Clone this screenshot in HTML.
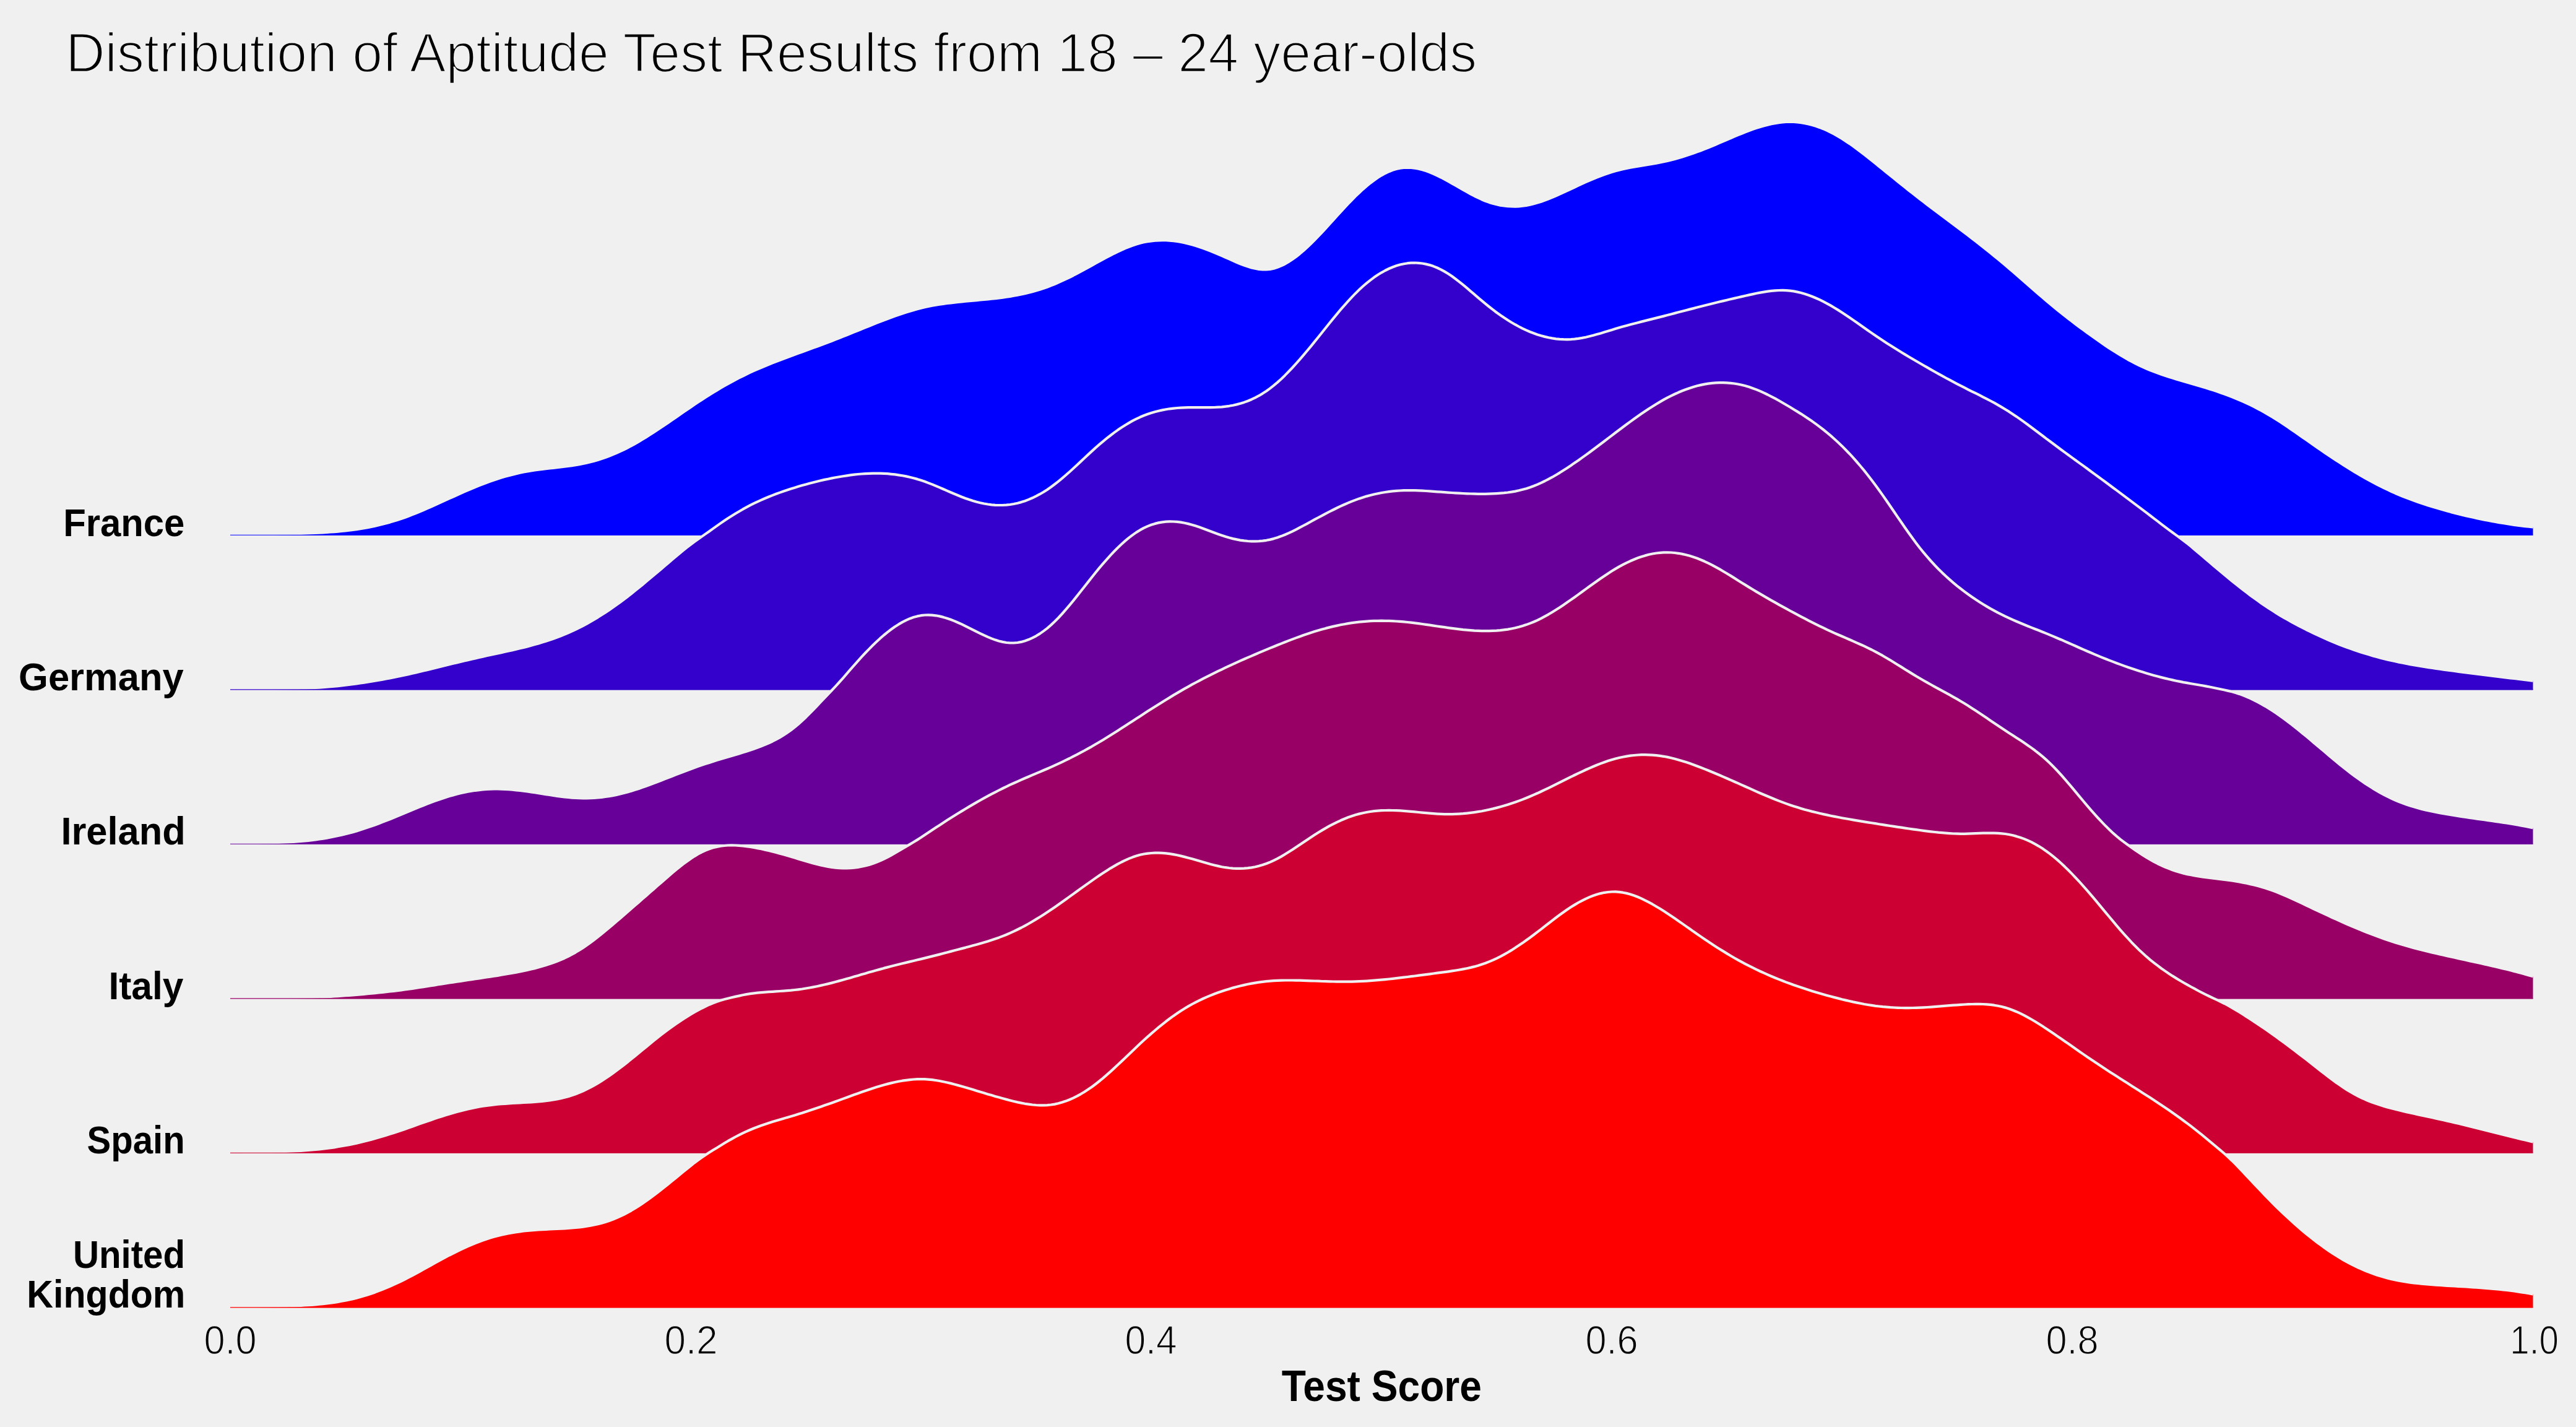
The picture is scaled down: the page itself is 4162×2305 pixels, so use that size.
<!DOCTYPE html>
<html><head><meta charset="utf-8"><title>Ridgeline</title>
<style>
html,body{margin:0;padding:0;background:#f0f0f0;}
body{width:4162px;height:2305px;overflow:hidden;font-family:"Liberation Sans",sans-serif;}
svg{display:block;position:absolute;left:0;top:0;}
text{font-family:"Liberation Sans",sans-serif;fill:#000;}
</style></head><body>
<svg xmlns="http://www.w3.org/2000/svg" width="4162" height="2305" viewBox="0 0 4162 2305">
<rect width="4162" height="2305" fill="#f0f0f0"/>
<path d="M372.0 864.4 L378.0 864.3 L384.0 864.3 L390.0 864.2 L396.0 864.2 L402.0 864.0 L408.0 863.9 L414.0 863.8 L420.0 863.6 L426.0 863.4 L432.0 863.2 L438.0 863.0 L444.0 862.8 L450.0 862.6 L456.0 862.4 L462.0 862.3 L468.0 862.1 L474.0 862.0 L480.0 861.9 L486.0 861.8 L492.0 861.6 L498.0 861.4 L504.0 861.2 L510.0 860.9 L516.0 860.6 L522.0 860.3 L528.0 859.9 L534.0 859.5 L540.0 859.1 L546.0 858.6 L552.0 858.0 L558.0 857.4 L564.0 856.7 L570.0 855.9 L576.0 855.1 L582.0 854.1 L588.0 853.1 L594.0 852.1 L600.0 850.9 L606.0 849.6 L612.0 848.2 L618.0 846.8 L624.0 845.2 L630.0 843.6 L636.0 841.8 L642.0 839.9 L648.0 838.0 L654.0 835.9 L660.0 833.7 L666.0 831.4 L672.0 829.0 L678.0 826.5 L684.0 824.0 L690.0 821.4 L696.0 818.8 L702.0 816.1 L708.0 813.4 L714.0 810.7 L720.0 807.9 L726.0 805.2 L732.0 802.5 L738.0 799.8 L744.0 797.1 L750.0 794.4 L756.0 791.8 L762.0 789.2 L768.0 786.7 L774.0 784.3 L780.0 782.0 L786.0 779.7 L792.0 777.5 L798.0 775.5 L804.0 773.5 L810.0 771.6 L816.0 769.8 L822.0 768.2 L828.0 766.6 L834.0 765.2 L840.0 763.8 L846.0 762.5 L852.0 761.4 L858.0 760.4 L864.0 759.4 L870.0 758.6 L876.0 757.8 L882.0 757.1 L888.0 756.4 L894.0 755.8 L900.0 755.1 L906.0 754.4 L912.0 753.7 L918.0 753.0 L924.0 752.1 L930.0 751.2 L936.0 750.1 L942.0 748.9 L948.0 747.6 L954.0 746.2 L960.0 744.6 L966.0 742.9 L972.0 741.0 L978.0 739.0 L984.0 736.8 L990.0 734.4 L996.0 731.9 L1002.0 729.2 L1008.0 726.4 L1014.0 723.3 L1020.0 720.1 L1026.0 716.8 L1032.0 713.4 L1038.0 709.8 L1044.0 706.1 L1050.0 702.3 L1056.0 698.5 L1062.0 694.6 L1068.0 690.6 L1074.0 686.5 L1080.0 682.4 L1086.0 678.3 L1092.0 674.2 L1098.0 670.1 L1104.0 665.9 L1110.0 661.8 L1116.0 657.7 L1122.0 653.6 L1128.0 649.6 L1134.0 645.7 L1140.0 641.8 L1146.0 638.0 L1152.0 634.2 L1158.0 630.6 L1164.0 627.0 L1170.0 623.5 L1176.0 620.1 L1182.0 616.8 L1188.0 613.6 L1194.0 610.5 L1200.0 607.5 L1206.0 604.5 L1212.0 601.7 L1218.0 598.9 L1224.0 596.3 L1230.0 593.7 L1236.0 591.2 L1242.0 588.7 L1248.0 586.3 L1254.0 584.0 L1260.0 581.7 L1266.0 579.5 L1272.0 577.2 L1278.0 575.0 L1284.0 572.8 L1290.0 570.6 L1296.0 568.5 L1302.0 566.3 L1308.0 564.1 L1314.0 561.9 L1320.0 559.7 L1326.0 557.5 L1332.0 555.2 L1338.0 553.0 L1344.0 550.7 L1350.0 548.4 L1356.0 546.0 L1362.0 543.6 L1368.0 541.3 L1374.0 538.8 L1380.0 536.4 L1386.0 534.0 L1392.0 531.6 L1398.0 529.1 L1404.0 526.7 L1410.0 524.3 L1416.0 521.9 L1422.0 519.6 L1428.0 517.3 L1434.0 515.0 L1440.0 512.8 L1446.0 510.6 L1452.0 508.5 L1458.0 506.5 L1464.0 504.6 L1470.0 502.7 L1476.0 500.9 L1482.0 499.3 L1488.0 497.7 L1494.0 496.3 L1500.0 495.0 L1506.0 493.8 L1512.0 492.8 L1518.0 491.8 L1524.0 490.9 L1530.0 490.0 L1536.0 489.3 L1542.0 488.6 L1548.0 487.9 L1554.0 487.3 L1560.0 486.7 L1566.0 486.1 L1572.0 485.6 L1578.0 485.1 L1584.0 484.5 L1590.0 483.9 L1596.0 483.3 L1602.0 482.7 L1608.0 482.1 L1614.0 481.3 L1620.0 480.6 L1626.0 479.7 L1632.0 478.8 L1638.0 477.8 L1644.0 476.7 L1650.0 475.5 L1656.0 474.2 L1662.0 472.7 L1668.0 471.2 L1674.0 469.5 L1680.0 467.7 L1686.0 465.8 L1692.0 463.7 L1698.0 461.4 L1704.0 459.0 L1710.0 456.4 L1716.0 453.7 L1722.0 450.9 L1728.0 448.0 L1734.0 445.0 L1740.0 441.8 L1746.0 438.7 L1752.0 435.4 L1758.0 432.1 L1764.0 428.8 L1770.0 425.5 L1776.0 422.2 L1782.0 418.9 L1788.0 415.7 L1794.0 412.6 L1800.0 409.5 L1806.0 406.6 L1812.0 403.8 L1818.0 401.1 L1824.0 398.7 L1830.0 396.5 L1836.0 394.5 L1842.0 392.8 L1848.0 391.3 L1854.0 390.2 L1860.0 389.3 L1866.0 388.6 L1872.0 388.3 L1878.0 388.1 L1884.0 388.2 L1890.0 388.6 L1896.0 389.2 L1902.0 390.0 L1908.0 391.0 L1914.0 392.2 L1920.0 393.6 L1926.0 395.2 L1932.0 397.0 L1938.0 399.0 L1944.0 401.1 L1950.0 403.3 L1956.0 405.6 L1962.0 408.0 L1968.0 410.5 L1974.0 413.1 L1980.0 415.7 L1986.0 418.4 L1992.0 421.1 L1998.0 423.7 L2004.0 426.2 L2010.0 428.5 L2016.0 430.6 L2022.0 432.4 L2028.0 433.8 L2034.0 434.9 L2040.0 435.4 L2046.0 435.5 L2052.0 434.9 L2058.0 433.7 L2064.0 431.8 L2070.0 429.4 L2076.0 426.5 L2082.0 423.0 L2088.0 419.1 L2094.0 414.8 L2100.0 410.0 L2106.0 404.9 L2112.0 399.5 L2118.0 393.8 L2124.0 387.8 L2130.0 381.6 L2136.0 375.3 L2142.0 368.8 L2148.0 362.2 L2154.0 355.6 L2160.0 348.9 L2166.0 342.3 L2172.0 335.8 L2178.0 329.4 L2184.0 323.2 L2190.0 317.1 L2196.0 311.4 L2202.0 305.8 L2208.0 300.6 L2214.0 295.7 L2220.0 291.2 L2226.0 287.0 L2232.0 283.3 L2238.0 280.0 L2244.0 277.2 L2250.0 274.8 L2256.0 273.0 L2262.0 271.6 L2268.0 270.9 L2274.0 270.6 L2280.0 270.9 L2286.0 271.6 L2292.0 272.7 L2298.0 274.3 L2304.0 276.1 L2310.0 278.3 L2316.0 280.8 L2322.0 283.6 L2328.0 286.5 L2334.0 289.6 L2340.0 292.9 L2346.0 296.3 L2352.0 299.7 L2358.0 303.2 L2364.0 306.6 L2370.0 310.0 L2376.0 313.3 L2382.0 316.5 L2388.0 319.4 L2394.0 322.2 L2400.0 324.7 L2406.0 326.9 L2412.0 328.8 L2418.0 330.3 L2424.0 331.6 L2430.0 332.5 L2436.0 333.2 L2442.0 333.5 L2448.0 333.6 L2454.0 333.3 L2460.0 332.7 L2466.0 331.9 L2472.0 330.7 L2478.0 329.3 L2484.0 327.6 L2490.0 325.7 L2496.0 323.6 L2502.0 321.3 L2508.0 318.9 L2514.0 316.3 L2520.0 313.6 L2526.0 310.9 L2532.0 308.1 L2538.0 305.3 L2544.0 302.5 L2550.0 299.7 L2556.0 296.9 L2562.0 294.2 L2568.0 291.6 L2574.0 289.1 L2580.0 286.6 L2586.0 284.3 L2592.0 282.0 L2598.0 279.9 L2604.0 278.0 L2610.0 276.2 L2616.0 274.6 L2622.0 273.2 L2628.0 271.9 L2634.0 270.7 L2640.0 269.6 L2646.0 268.6 L2652.0 267.6 L2658.0 266.7 L2664.0 265.7 L2670.0 264.7 L2676.0 263.6 L2682.0 262.5 L2688.0 261.2 L2694.0 259.9 L2700.0 258.4 L2706.0 256.9 L2712.0 255.2 L2718.0 253.5 L2724.0 251.6 L2730.0 249.6 L2736.0 247.6 L2742.0 245.4 L2748.0 243.2 L2754.0 240.9 L2760.0 238.5 L2766.0 236.0 L2772.0 233.5 L2778.0 230.9 L2784.0 228.3 L2790.0 225.7 L2796.0 223.2 L2802.0 220.6 L2808.0 218.1 L2814.0 215.7 L2820.0 213.3 L2826.0 211.0 L2832.0 208.8 L2838.0 206.8 L2844.0 204.9 L2850.0 203.2 L2856.0 201.6 L2862.0 200.2 L2868.0 199.1 L2874.0 198.1 L2880.0 197.4 L2886.0 197.0 L2892.0 196.8 L2898.0 197.0 L2904.0 197.4 L2910.0 198.1 L2916.0 199.1 L2922.0 200.4 L2928.0 201.9 L2934.0 203.8 L2940.0 205.9 L2946.0 208.2 L2952.0 210.9 L2958.0 213.8 L2964.0 216.9 L2970.0 220.4 L2976.0 224.0 L2982.0 227.9 L2988.0 231.9 L2994.0 236.1 L3000.0 240.5 L3006.0 245.0 L3012.0 249.6 L3018.0 254.3 L3024.0 259.1 L3030.0 263.9 L3036.0 268.8 L3042.0 273.6 L3048.0 278.5 L3054.0 283.3 L3060.0 288.2 L3066.0 293.0 L3072.0 297.9 L3078.0 302.7 L3084.0 307.5 L3090.0 312.2 L3096.0 316.9 L3102.0 321.6 L3108.0 326.2 L3114.0 330.8 L3120.0 335.4 L3126.0 339.9 L3132.0 344.4 L3138.0 348.9 L3144.0 353.3 L3150.0 357.8 L3156.0 362.3 L3162.0 366.8 L3168.0 371.3 L3174.0 375.8 L3180.0 380.4 L3186.0 385.0 L3192.0 389.6 L3198.0 394.3 L3204.0 399.0 L3210.0 403.8 L3216.0 408.6 L3222.0 413.5 L3228.0 418.4 L3234.0 423.4 L3240.0 428.5 L3246.0 433.6 L3252.0 438.7 L3258.0 443.9 L3264.0 449.1 L3270.0 454.4 L3276.0 459.6 L3282.0 464.9 L3288.0 470.1 L3294.0 475.3 L3300.0 480.5 L3306.0 485.6 L3312.0 490.7 L3318.0 495.7 L3324.0 500.6 L3330.0 505.4 L3336.0 510.1 L3342.0 514.8 L3348.0 519.4 L3354.0 524.0 L3360.0 528.5 L3366.0 532.9 L3372.0 537.3 L3378.0 541.6 L3384.0 545.9 L3390.0 550.1 L3396.0 554.3 L3402.0 558.4 L3408.0 562.4 L3414.0 566.3 L3420.0 570.1 L3426.0 573.8 L3432.0 577.3 L3438.0 580.8 L3444.0 584.0 L3450.0 587.2 L3456.0 590.1 L3462.0 592.9 L3468.0 595.5 L3474.0 598.0 L3480.0 600.3 L3486.0 602.6 L3492.0 604.7 L3498.0 606.7 L3504.0 608.7 L3510.0 610.6 L3516.0 612.4 L3522.0 614.2 L3528.0 616.0 L3534.0 617.7 L3540.0 619.5 L3546.0 621.2 L3552.0 623.0 L3558.0 624.7 L3564.0 626.6 L3570.0 628.4 L3576.0 630.3 L3582.0 632.3 L3588.0 634.4 L3594.0 636.5 L3600.0 638.7 L3606.0 641.0 L3612.0 643.5 L3618.0 646.0 L3624.0 648.6 L3630.0 651.4 L3636.0 654.2 L3642.0 657.2 L3648.0 660.3 L3654.0 663.5 L3660.0 666.9 L3666.0 670.4 L3672.0 674.0 L3678.0 677.8 L3684.0 681.6 L3690.0 685.6 L3696.0 689.6 L3702.0 693.7 L3708.0 697.8 L3714.0 702.0 L3720.0 706.2 L3726.0 710.4 L3732.0 714.6 L3738.0 718.8 L3744.0 722.9 L3750.0 727.1 L3756.0 731.2 L3762.0 735.2 L3768.0 739.2 L3774.0 743.2 L3780.0 747.1 L3786.0 751.0 L3792.0 754.7 L3798.0 758.5 L3804.0 762.1 L3810.0 765.7 L3816.0 769.2 L3822.0 772.6 L3828.0 775.9 L3834.0 779.2 L3840.0 782.3 L3846.0 785.4 L3852.0 788.3 L3858.0 791.2 L3864.0 794.0 L3870.0 796.7 L3876.0 799.2 L3882.0 801.7 L3888.0 804.1 L3894.0 806.4 L3900.0 808.6 L3906.0 810.7 L3912.0 812.8 L3918.0 814.7 L3924.0 816.7 L3930.0 818.5 L3936.0 820.3 L3942.0 822.1 L3948.0 823.8 L3954.0 825.4 L3960.0 827.1 L3966.0 828.6 L3972.0 830.2 L3978.0 831.7 L3984.0 833.1 L3990.0 834.5 L3996.0 835.8 L4002.0 837.2 L4008.0 838.4 L4014.0 839.6 L4020.0 840.8 L4026.0 841.9 L4032.0 843.0 L4038.0 844.1 L4044.0 845.0 L4050.0 846.0 L4056.0 846.9 L4062.0 847.8 L4068.0 848.6 L4074.0 849.3 L4080.0 850.1 L4086.0 850.7 L4092.0 851.4 L4092.5 851.4 L4092.5 864.5 L372.0 864.5 Z" fill="#0000ff"/>
<path d="M372.0 864.4 L378.0 864.3 L384.0 864.3 L390.0 864.2 L396.0 864.2 L402.0 864.0 L408.0 863.9 L414.0 863.8 L420.0 863.6 L426.0 863.4 L432.0 863.2 L438.0 863.0 L444.0 862.8 L450.0 862.6 L456.0 862.4 L462.0 862.3 L468.0 862.1 L474.0 862.0 L480.0 861.9 L486.0 861.8 L492.0 861.6 L498.0 861.4 L504.0 861.2 L510.0 860.9 L516.0 860.6 L522.0 860.3 L528.0 859.9 L534.0 859.5 L540.0 859.1 L546.0 858.6 L552.0 858.0 L558.0 857.4 L564.0 856.7 L570.0 855.9 L576.0 855.1 L582.0 854.1 L588.0 853.1 L594.0 852.1 L600.0 850.9 L606.0 849.6 L612.0 848.2 L618.0 846.8 L624.0 845.2 L630.0 843.6 L636.0 841.8 L642.0 839.9 L648.0 838.0 L654.0 835.9 L660.0 833.7 L666.0 831.4 L672.0 829.0 L678.0 826.5 L684.0 824.0 L690.0 821.4 L696.0 818.8 L702.0 816.1 L708.0 813.4 L714.0 810.7 L720.0 807.9 L726.0 805.2 L732.0 802.5 L738.0 799.8 L744.0 797.1 L750.0 794.4 L756.0 791.8 L762.0 789.2 L768.0 786.7 L774.0 784.3 L780.0 782.0 L786.0 779.7 L792.0 777.5 L798.0 775.5 L804.0 773.5 L810.0 771.6 L816.0 769.8 L822.0 768.2 L828.0 766.6 L834.0 765.2 L840.0 763.8 L846.0 762.5 L852.0 761.4 L858.0 760.4 L864.0 759.4 L870.0 758.6 L876.0 757.8 L882.0 757.1 L888.0 756.4 L894.0 755.8 L900.0 755.1 L906.0 754.4 L912.0 753.7 L918.0 753.0 L924.0 752.1 L930.0 751.2 L936.0 750.1 L942.0 748.9 L948.0 747.6 L954.0 746.2 L960.0 744.6 L966.0 742.9 L972.0 741.0 L978.0 739.0 L984.0 736.8 L990.0 734.4 L996.0 731.9 L1002.0 729.2 L1008.0 726.4 L1014.0 723.3 L1020.0 720.1 L1026.0 716.8 L1032.0 713.4 L1038.0 709.8 L1044.0 706.1 L1050.0 702.3 L1056.0 698.5 L1062.0 694.6 L1068.0 690.6 L1074.0 686.5 L1080.0 682.4 L1086.0 678.3 L1092.0 674.2 L1098.0 670.1 L1104.0 665.9 L1110.0 661.8 L1116.0 657.7 L1122.0 653.6 L1128.0 649.6 L1134.0 645.7 L1140.0 641.8 L1146.0 638.0 L1152.0 634.2 L1158.0 630.6 L1164.0 627.0 L1170.0 623.5 L1176.0 620.1 L1182.0 616.8 L1188.0 613.6 L1194.0 610.5 L1200.0 607.5 L1206.0 604.5 L1212.0 601.7 L1218.0 598.9 L1224.0 596.3 L1230.0 593.7 L1236.0 591.2 L1242.0 588.7 L1248.0 586.3 L1254.0 584.0 L1260.0 581.7 L1266.0 579.5 L1272.0 577.2 L1278.0 575.0 L1284.0 572.8 L1290.0 570.6 L1296.0 568.5 L1302.0 566.3 L1308.0 564.1 L1314.0 561.9 L1320.0 559.7 L1326.0 557.5 L1332.0 555.2 L1338.0 553.0 L1344.0 550.7 L1350.0 548.4 L1356.0 546.0 L1362.0 543.6 L1368.0 541.3 L1374.0 538.8 L1380.0 536.4 L1386.0 534.0 L1392.0 531.6 L1398.0 529.1 L1404.0 526.7 L1410.0 524.3 L1416.0 521.9 L1422.0 519.6 L1428.0 517.3 L1434.0 515.0 L1440.0 512.8 L1446.0 510.6 L1452.0 508.5 L1458.0 506.5 L1464.0 504.6 L1470.0 502.7 L1476.0 500.9 L1482.0 499.3 L1488.0 497.7 L1494.0 496.3 L1500.0 495.0 L1506.0 493.8 L1512.0 492.8 L1518.0 491.8 L1524.0 490.9 L1530.0 490.0 L1536.0 489.3 L1542.0 488.6 L1548.0 487.9 L1554.0 487.3 L1560.0 486.7 L1566.0 486.1 L1572.0 485.6 L1578.0 485.1 L1584.0 484.5 L1590.0 483.9 L1596.0 483.3 L1602.0 482.7 L1608.0 482.1 L1614.0 481.3 L1620.0 480.6 L1626.0 479.7 L1632.0 478.8 L1638.0 477.8 L1644.0 476.7 L1650.0 475.5 L1656.0 474.2 L1662.0 472.7 L1668.0 471.2 L1674.0 469.5 L1680.0 467.7 L1686.0 465.8 L1692.0 463.7 L1698.0 461.4 L1704.0 459.0 L1710.0 456.4 L1716.0 453.7 L1722.0 450.9 L1728.0 448.0 L1734.0 445.0 L1740.0 441.8 L1746.0 438.7 L1752.0 435.4 L1758.0 432.1 L1764.0 428.8 L1770.0 425.5 L1776.0 422.2 L1782.0 418.9 L1788.0 415.7 L1794.0 412.6 L1800.0 409.5 L1806.0 406.6 L1812.0 403.8 L1818.0 401.1 L1824.0 398.7 L1830.0 396.5 L1836.0 394.5 L1842.0 392.8 L1848.0 391.3 L1854.0 390.2 L1860.0 389.3 L1866.0 388.6 L1872.0 388.3 L1878.0 388.1 L1884.0 388.2 L1890.0 388.6 L1896.0 389.2 L1902.0 390.0 L1908.0 391.0 L1914.0 392.2 L1920.0 393.6 L1926.0 395.2 L1932.0 397.0 L1938.0 399.0 L1944.0 401.1 L1950.0 403.3 L1956.0 405.6 L1962.0 408.0 L1968.0 410.5 L1974.0 413.1 L1980.0 415.7 L1986.0 418.4 L1992.0 421.1 L1998.0 423.7 L2004.0 426.2 L2010.0 428.5 L2016.0 430.6 L2022.0 432.4 L2028.0 433.8 L2034.0 434.9 L2040.0 435.4 L2046.0 435.5 L2052.0 434.9 L2058.0 433.7 L2064.0 431.8 L2070.0 429.4 L2076.0 426.5 L2082.0 423.0 L2088.0 419.1 L2094.0 414.8 L2100.0 410.0 L2106.0 404.9 L2112.0 399.5 L2118.0 393.8 L2124.0 387.8 L2130.0 381.6 L2136.0 375.3 L2142.0 368.8 L2148.0 362.2 L2154.0 355.6 L2160.0 348.9 L2166.0 342.3 L2172.0 335.8 L2178.0 329.4 L2184.0 323.2 L2190.0 317.1 L2196.0 311.4 L2202.0 305.8 L2208.0 300.6 L2214.0 295.7 L2220.0 291.2 L2226.0 287.0 L2232.0 283.3 L2238.0 280.0 L2244.0 277.2 L2250.0 274.8 L2256.0 273.0 L2262.0 271.6 L2268.0 270.9 L2274.0 270.6 L2280.0 270.9 L2286.0 271.6 L2292.0 272.7 L2298.0 274.3 L2304.0 276.1 L2310.0 278.3 L2316.0 280.8 L2322.0 283.6 L2328.0 286.5 L2334.0 289.6 L2340.0 292.9 L2346.0 296.3 L2352.0 299.7 L2358.0 303.2 L2364.0 306.6 L2370.0 310.0 L2376.0 313.3 L2382.0 316.5 L2388.0 319.4 L2394.0 322.2 L2400.0 324.7 L2406.0 326.9 L2412.0 328.8 L2418.0 330.3 L2424.0 331.6 L2430.0 332.5 L2436.0 333.2 L2442.0 333.5 L2448.0 333.6 L2454.0 333.3 L2460.0 332.7 L2466.0 331.9 L2472.0 330.7 L2478.0 329.3 L2484.0 327.6 L2490.0 325.7 L2496.0 323.6 L2502.0 321.3 L2508.0 318.9 L2514.0 316.3 L2520.0 313.6 L2526.0 310.9 L2532.0 308.1 L2538.0 305.3 L2544.0 302.5 L2550.0 299.7 L2556.0 296.9 L2562.0 294.2 L2568.0 291.6 L2574.0 289.1 L2580.0 286.6 L2586.0 284.3 L2592.0 282.0 L2598.0 279.9 L2604.0 278.0 L2610.0 276.2 L2616.0 274.6 L2622.0 273.2 L2628.0 271.9 L2634.0 270.7 L2640.0 269.6 L2646.0 268.6 L2652.0 267.6 L2658.0 266.7 L2664.0 265.7 L2670.0 264.7 L2676.0 263.6 L2682.0 262.5 L2688.0 261.2 L2694.0 259.9 L2700.0 258.4 L2706.0 256.9 L2712.0 255.2 L2718.0 253.5 L2724.0 251.6 L2730.0 249.6 L2736.0 247.6 L2742.0 245.4 L2748.0 243.2 L2754.0 240.9 L2760.0 238.5 L2766.0 236.0 L2772.0 233.5 L2778.0 230.9 L2784.0 228.3 L2790.0 225.7 L2796.0 223.2 L2802.0 220.6 L2808.0 218.1 L2814.0 215.7 L2820.0 213.3 L2826.0 211.0 L2832.0 208.8 L2838.0 206.8 L2844.0 204.9 L2850.0 203.2 L2856.0 201.6 L2862.0 200.2 L2868.0 199.1 L2874.0 198.1 L2880.0 197.4 L2886.0 197.0 L2892.0 196.8 L2898.0 197.0 L2904.0 197.4 L2910.0 198.1 L2916.0 199.1 L2922.0 200.4 L2928.0 201.9 L2934.0 203.8 L2940.0 205.9 L2946.0 208.2 L2952.0 210.9 L2958.0 213.8 L2964.0 216.9 L2970.0 220.4 L2976.0 224.0 L2982.0 227.9 L2988.0 231.9 L2994.0 236.1 L3000.0 240.5 L3006.0 245.0 L3012.0 249.6 L3018.0 254.3 L3024.0 259.1 L3030.0 263.9 L3036.0 268.8 L3042.0 273.6 L3048.0 278.5 L3054.0 283.3 L3060.0 288.2 L3066.0 293.0 L3072.0 297.9 L3078.0 302.7 L3084.0 307.5 L3090.0 312.2 L3096.0 316.9 L3102.0 321.6 L3108.0 326.2 L3114.0 330.8 L3120.0 335.4 L3126.0 339.9 L3132.0 344.4 L3138.0 348.9 L3144.0 353.3 L3150.0 357.8 L3156.0 362.3 L3162.0 366.8 L3168.0 371.3 L3174.0 375.8 L3180.0 380.4 L3186.0 385.0 L3192.0 389.6 L3198.0 394.3 L3204.0 399.0 L3210.0 403.8 L3216.0 408.6 L3222.0 413.5 L3228.0 418.4 L3234.0 423.4 L3240.0 428.5 L3246.0 433.6 L3252.0 438.7 L3258.0 443.9 L3264.0 449.1 L3270.0 454.4 L3276.0 459.6 L3282.0 464.9 L3288.0 470.1 L3294.0 475.3 L3300.0 480.5 L3306.0 485.6 L3312.0 490.7 L3318.0 495.7 L3324.0 500.6 L3330.0 505.4 L3336.0 510.1 L3342.0 514.8 L3348.0 519.4 L3354.0 524.0 L3360.0 528.5 L3366.0 532.9 L3372.0 537.3 L3378.0 541.6 L3384.0 545.9 L3390.0 550.1 L3396.0 554.3 L3402.0 558.4 L3408.0 562.4 L3414.0 566.3 L3420.0 570.1 L3426.0 573.8 L3432.0 577.3 L3438.0 580.8 L3444.0 584.0 L3450.0 587.2 L3456.0 590.1 L3462.0 592.9 L3468.0 595.5 L3474.0 598.0 L3480.0 600.3 L3486.0 602.6 L3492.0 604.7 L3498.0 606.7 L3504.0 608.7 L3510.0 610.6 L3516.0 612.4 L3522.0 614.2 L3528.0 616.0 L3534.0 617.7 L3540.0 619.5 L3546.0 621.2 L3552.0 623.0 L3558.0 624.7 L3564.0 626.6 L3570.0 628.4 L3576.0 630.3 L3582.0 632.3 L3588.0 634.4 L3594.0 636.5 L3600.0 638.7 L3606.0 641.0 L3612.0 643.5 L3618.0 646.0 L3624.0 648.6 L3630.0 651.4 L3636.0 654.2 L3642.0 657.2 L3648.0 660.3 L3654.0 663.5 L3660.0 666.9 L3666.0 670.4 L3672.0 674.0 L3678.0 677.8 L3684.0 681.6 L3690.0 685.6 L3696.0 689.6 L3702.0 693.7 L3708.0 697.8 L3714.0 702.0 L3720.0 706.2 L3726.0 710.4 L3732.0 714.6 L3738.0 718.8 L3744.0 722.9 L3750.0 727.1 L3756.0 731.2 L3762.0 735.2 L3768.0 739.2 L3774.0 743.2 L3780.0 747.1 L3786.0 751.0 L3792.0 754.7 L3798.0 758.5 L3804.0 762.1 L3810.0 765.7 L3816.0 769.2 L3822.0 772.6 L3828.0 775.9 L3834.0 779.2 L3840.0 782.3 L3846.0 785.4 L3852.0 788.3 L3858.0 791.2 L3864.0 794.0 L3870.0 796.7 L3876.0 799.2 L3882.0 801.7 L3888.0 804.1 L3894.0 806.4 L3900.0 808.6 L3906.0 810.7 L3912.0 812.8 L3918.0 814.7 L3924.0 816.7 L3930.0 818.5 L3936.0 820.3 L3942.0 822.1 L3948.0 823.8 L3954.0 825.4 L3960.0 827.1 L3966.0 828.6 L3972.0 830.2 L3978.0 831.7 L3984.0 833.1 L3990.0 834.5 L3996.0 835.8 L4002.0 837.2 L4008.0 838.4 L4014.0 839.6 L4020.0 840.8 L4026.0 841.9 L4032.0 843.0 L4038.0 844.1 L4044.0 845.0 L4050.0 846.0 L4056.0 846.9 L4062.0 847.8 L4068.0 848.6 L4074.0 849.3 L4080.0 850.1 L4086.0 850.7 L4092.0 851.4 L4092.5 851.4" fill="none" stroke="#f0f0f0" stroke-width="4.2" stroke-linejoin="round"/>
<path d="M372.0 864.2 H4092.5" stroke="#0000ff" stroke-width="1.1" fill="none"/>
<path d="M372.0 1114.2 L378.0 1114.1 L384.0 1114.1 L390.0 1114.1 L396.0 1114.0 L402.0 1114.0 L408.0 1113.9 L414.0 1113.8 L420.0 1113.6 L426.0 1113.4 L432.0 1113.2 L438.0 1113.0 L444.0 1112.8 L450.0 1112.6 L456.0 1112.5 L462.0 1112.3 L468.0 1112.1 L474.0 1112.0 L480.0 1111.8 L486.0 1111.7 L492.0 1111.6 L498.0 1111.4 L504.0 1111.2 L510.0 1110.9 L516.0 1110.6 L522.0 1110.2 L528.0 1109.7 L534.0 1109.2 L540.0 1108.7 L546.0 1108.1 L552.0 1107.4 L558.0 1106.7 L564.0 1105.9 L570.0 1105.2 L576.0 1104.3 L582.0 1103.5 L588.0 1102.6 L594.0 1101.7 L600.0 1100.7 L606.0 1099.7 L612.0 1098.7 L618.0 1097.6 L624.0 1096.5 L630.0 1095.4 L636.0 1094.2 L642.0 1093.0 L648.0 1091.8 L654.0 1090.5 L660.0 1089.1 L666.0 1087.8 L672.0 1086.4 L678.0 1085.0 L684.0 1083.5 L690.0 1082.1 L696.0 1080.6 L702.0 1079.1 L708.0 1077.7 L714.0 1076.2 L720.0 1074.7 L726.0 1073.2 L732.0 1071.8 L738.0 1070.4 L744.0 1068.9 L750.0 1067.5 L756.0 1066.1 L762.0 1064.7 L768.0 1063.4 L774.0 1062.0 L780.0 1060.7 L786.0 1059.3 L792.0 1058.0 L798.0 1056.7 L804.0 1055.4 L810.0 1054.1 L816.0 1052.8 L822.0 1051.5 L828.0 1050.1 L834.0 1048.7 L840.0 1047.3 L846.0 1045.9 L852.0 1044.4 L858.0 1042.8 L864.0 1041.1 L870.0 1039.4 L876.0 1037.6 L882.0 1035.7 L888.0 1033.8 L894.0 1031.7 L900.0 1029.5 L906.0 1027.2 L912.0 1024.8 L918.0 1022.3 L924.0 1019.6 L930.0 1016.8 L936.0 1013.9 L942.0 1010.8 L948.0 1007.6 L954.0 1004.2 L960.0 1000.7 L966.0 997.1 L972.0 993.3 L978.0 989.5 L984.0 985.5 L990.0 981.3 L996.0 977.1 L1002.0 972.7 L1008.0 968.2 L1014.0 963.7 L1020.0 959.0 L1026.0 954.2 L1032.0 949.4 L1038.0 944.5 L1044.0 939.5 L1050.0 934.5 L1056.0 929.5 L1062.0 924.4 L1068.0 919.3 L1074.0 914.2 L1080.0 909.1 L1086.0 904.0 L1092.0 899.0 L1098.0 893.9 L1104.0 888.9 L1110.0 884.1 L1116.0 879.5 L1122.0 875.1 L1128.0 870.8 L1134.0 866.6 L1140.0 862.4 L1146.0 858.2 L1152.0 853.9 L1158.0 849.6 L1164.0 845.4 L1170.0 841.3 L1176.0 837.3 L1182.0 833.5 L1188.0 829.8 L1194.0 826.2 L1200.0 822.7 L1206.0 819.4 L1212.0 816.2 L1218.0 813.2 L1224.0 810.3 L1230.0 807.6 L1236.0 805.0 L1242.0 802.5 L1248.0 800.1 L1254.0 797.8 L1260.0 795.6 L1266.0 793.5 L1272.0 791.5 L1278.0 789.5 L1284.0 787.7 L1290.0 785.8 L1296.0 784.1 L1302.0 782.4 L1308.0 780.8 L1314.0 779.2 L1320.0 777.7 L1326.0 776.3 L1332.0 774.9 L1338.0 773.7 L1344.0 772.4 L1350.0 771.3 L1356.0 770.2 L1362.0 769.2 L1368.0 768.3 L1374.0 767.4 L1380.0 766.7 L1386.0 766.0 L1392.0 765.5 L1398.0 765.1 L1404.0 764.8 L1410.0 764.6 L1416.0 764.5 L1422.0 764.6 L1428.0 764.9 L1434.0 765.2 L1440.0 765.8 L1446.0 766.4 L1452.0 767.3 L1458.0 768.3 L1464.0 769.4 L1470.0 770.8 L1476.0 772.3 L1482.0 773.9 L1488.0 775.8 L1494.0 777.8 L1500.0 780.1 L1506.0 782.4 L1512.0 784.9 L1518.0 787.4 L1524.0 790.0 L1530.0 792.7 L1536.0 795.3 L1542.0 797.8 L1548.0 800.3 L1554.0 802.7 L1560.0 805.0 L1566.0 807.1 L1572.0 809.0 L1578.0 810.7 L1584.0 812.2 L1590.0 813.5 L1596.0 814.5 L1602.0 815.3 L1608.0 815.8 L1614.0 816.0 L1620.0 816.0 L1626.0 815.7 L1632.0 815.0 L1638.0 814.0 L1644.0 812.7 L1650.0 811.1 L1656.0 809.2 L1662.0 806.9 L1668.0 804.3 L1674.0 801.4 L1680.0 798.2 L1686.0 794.7 L1692.0 790.9 L1698.0 786.8 L1704.0 782.3 L1710.0 777.6 L1716.0 772.7 L1722.0 767.5 L1728.0 762.2 L1734.0 756.7 L1740.0 751.2 L1746.0 745.6 L1752.0 740.0 L1758.0 734.4 L1764.0 728.9 L1770.0 723.4 L1776.0 718.2 L1782.0 713.1 L1788.0 708.2 L1794.0 703.5 L1800.0 698.9 L1806.0 694.6 L1812.0 690.5 L1818.0 686.7 L1824.0 683.1 L1830.0 679.7 L1836.0 676.6 L1842.0 673.8 L1848.0 671.3 L1854.0 669.0 L1860.0 667.0 L1866.0 665.2 L1872.0 663.7 L1878.0 662.4 L1884.0 661.3 L1890.0 660.3 L1896.0 659.6 L1902.0 659.0 L1908.0 658.6 L1914.0 658.4 L1920.0 658.2 L1926.0 658.2 L1932.0 658.2 L1938.0 658.2 L1944.0 658.2 L1950.0 658.2 L1956.0 658.2 L1962.0 658.0 L1968.0 657.7 L1974.0 657.3 L1980.0 656.6 L1986.0 655.8 L1992.0 654.7 L1998.0 653.4 L2004.0 651.8 L2010.0 649.9 L2016.0 647.7 L2022.0 645.2 L2028.0 642.3 L2034.0 639.2 L2040.0 635.6 L2046.0 631.7 L2052.0 627.4 L2058.0 622.7 L2064.0 617.6 L2070.0 612.2 L2076.0 606.4 L2082.0 600.3 L2088.0 594.0 L2094.0 587.4 L2100.0 580.6 L2106.0 573.7 L2112.0 566.5 L2118.0 559.3 L2124.0 551.9 L2130.0 544.5 L2136.0 537.0 L2142.0 529.5 L2148.0 522.0 L2154.0 514.6 L2160.0 507.4 L2166.0 500.2 L2172.0 493.3 L2178.0 486.6 L2184.0 480.1 L2190.0 473.9 L2196.0 468.1 L2202.0 462.5 L2208.0 457.4 L2214.0 452.6 L2220.0 448.1 L2226.0 444.0 L2232.0 440.3 L2238.0 437.0 L2244.0 434.0 L2250.0 431.5 L2256.0 429.3 L2262.0 427.5 L2268.0 426.2 L2274.0 425.2 L2280.0 424.7 L2286.0 424.5 L2292.0 424.8 L2298.0 425.5 L2304.0 426.6 L2310.0 428.1 L2316.0 430.1 L2322.0 432.5 L2328.0 435.3 L2334.0 438.6 L2340.0 442.3 L2346.0 446.3 L2352.0 450.7 L2358.0 455.3 L2364.0 460.2 L2370.0 465.2 L2376.0 470.3 L2382.0 475.4 L2388.0 480.6 L2394.0 485.7 L2400.0 490.7 L2406.0 495.5 L2412.0 500.2 L2418.0 504.7 L2424.0 509.0 L2430.0 513.1 L2436.0 517.0 L2442.0 520.7 L2448.0 524.2 L2454.0 527.5 L2460.0 530.6 L2466.0 533.4 L2472.0 536.0 L2478.0 538.3 L2484.0 540.5 L2490.0 542.3 L2496.0 543.9 L2502.0 545.3 L2508.0 546.4 L2514.0 547.3 L2520.0 547.9 L2526.0 548.2 L2532.0 548.3 L2538.0 548.1 L2544.0 547.6 L2550.0 546.9 L2556.0 545.9 L2562.0 544.7 L2568.0 543.3 L2574.0 541.8 L2580.0 540.1 L2586.0 538.4 L2592.0 536.6 L2598.0 534.8 L2604.0 532.9 L2610.0 531.1 L2616.0 529.3 L2622.0 527.6 L2628.0 525.9 L2634.0 524.3 L2640.0 522.7 L2646.0 521.2 L2652.0 519.6 L2658.0 518.1 L2664.0 516.6 L2670.0 515.1 L2676.0 513.6 L2682.0 512.1 L2688.0 510.6 L2694.0 509.0 L2700.0 507.5 L2706.0 505.9 L2712.0 504.3 L2718.0 502.8 L2724.0 501.2 L2730.0 499.6 L2736.0 498.1 L2742.0 496.5 L2748.0 495.0 L2754.0 493.5 L2760.0 492.0 L2766.0 490.5 L2772.0 489.0 L2778.0 487.5 L2784.0 486.1 L2790.0 484.7 L2796.0 483.2 L2802.0 481.9 L2808.0 480.5 L2814.0 479.1 L2820.0 477.7 L2826.0 476.4 L2832.0 475.1 L2838.0 473.8 L2844.0 472.6 L2850.0 471.6 L2856.0 470.7 L2862.0 469.9 L2868.0 469.4 L2874.0 469.0 L2880.0 468.9 L2886.0 469.1 L2892.0 469.6 L2898.0 470.4 L2904.0 471.6 L2910.0 473.0 L2916.0 474.7 L2922.0 476.7 L2928.0 479.0 L2934.0 481.5 L2940.0 484.2 L2946.0 487.2 L2952.0 490.3 L2958.0 493.7 L2964.0 497.2 L2970.0 500.9 L2976.0 504.7 L2982.0 508.7 L2988.0 512.7 L2994.0 516.9 L3000.0 521.0 L3006.0 525.2 L3012.0 529.5 L3018.0 533.7 L3024.0 537.9 L3030.0 542.0 L3036.0 546.1 L3042.0 550.0 L3048.0 554.0 L3054.0 557.8 L3060.0 561.6 L3066.0 565.3 L3072.0 569.0 L3078.0 572.6 L3084.0 576.2 L3090.0 579.8 L3096.0 583.3 L3102.0 586.8 L3108.0 590.3 L3114.0 593.7 L3120.0 597.1 L3126.0 600.5 L3132.0 603.9 L3138.0 607.2 L3144.0 610.5 L3150.0 613.7 L3156.0 616.9 L3162.0 620.1 L3168.0 623.2 L3174.0 626.2 L3180.0 629.3 L3186.0 632.3 L3192.0 635.2 L3198.0 638.2 L3204.0 641.3 L3210.0 644.4 L3216.0 647.5 L3222.0 650.7 L3228.0 654.1 L3234.0 657.6 L3240.0 661.2 L3246.0 664.9 L3252.0 668.9 L3258.0 672.9 L3264.0 677.1 L3270.0 681.4 L3276.0 685.8 L3282.0 690.2 L3288.0 694.7 L3294.0 699.2 L3300.0 703.7 L3306.0 708.3 L3312.0 712.8 L3318.0 717.3 L3324.0 721.8 L3330.0 726.2 L3336.0 730.6 L3342.0 735.0 L3348.0 739.4 L3354.0 743.7 L3360.0 748.1 L3366.0 752.4 L3372.0 756.8 L3378.0 761.2 L3384.0 765.6 L3390.0 770.0 L3396.0 774.4 L3402.0 778.8 L3408.0 783.2 L3414.0 787.7 L3420.0 792.1 L3426.0 796.6 L3432.0 801.1 L3438.0 805.6 L3444.0 810.1 L3450.0 814.6 L3456.0 819.1 L3462.0 823.6 L3468.0 828.2 L3474.0 832.7 L3480.0 837.3 L3486.0 841.9 L3492.0 846.6 L3498.0 851.2 L3504.0 855.6 L3510.0 860.0 L3516.0 864.4 L3522.0 868.8 L3528.0 873.3 L3534.0 877.9 L3540.0 882.7 L3546.0 887.8 L3552.0 892.9 L3558.0 898.0 L3564.0 903.1 L3570.0 908.2 L3576.0 913.3 L3582.0 918.4 L3588.0 923.4 L3594.0 928.4 L3600.0 933.4 L3606.0 938.3 L3612.0 943.1 L3618.0 947.9 L3624.0 952.6 L3630.0 957.2 L3636.0 961.7 L3642.0 966.1 L3648.0 970.4 L3654.0 974.7 L3660.0 978.8 L3666.0 982.8 L3672.0 986.6 L3678.0 990.4 L3684.0 994.1 L3690.0 997.6 L3696.0 1001.0 L3702.0 1004.4 L3708.0 1007.7 L3714.0 1010.8 L3720.0 1013.9 L3726.0 1017.0 L3732.0 1019.9 L3738.0 1022.8 L3744.0 1025.6 L3750.0 1028.4 L3756.0 1031.1 L3762.0 1033.7 L3768.0 1036.3 L3774.0 1038.8 L3780.0 1041.2 L3786.0 1043.5 L3792.0 1045.7 L3798.0 1047.9 L3804.0 1050.0 L3810.0 1052.0 L3816.0 1054.0 L3822.0 1055.8 L3828.0 1057.6 L3834.0 1059.4 L3840.0 1061.0 L3846.0 1062.6 L3852.0 1064.1 L3858.0 1065.6 L3864.0 1066.9 L3870.0 1068.3 L3876.0 1069.6 L3882.0 1070.8 L3888.0 1071.9 L3894.0 1073.1 L3900.0 1074.1 L3906.0 1075.2 L3912.0 1076.2 L3918.0 1077.1 L3924.0 1078.1 L3930.0 1079.0 L3936.0 1079.9 L3942.0 1080.7 L3948.0 1081.6 L3954.0 1082.4 L3960.0 1083.2 L3966.0 1084.0 L3972.0 1084.8 L3978.0 1085.6 L3984.0 1086.4 L3990.0 1087.2 L3996.0 1087.9 L4002.0 1088.7 L4008.0 1089.5 L4014.0 1090.2 L4020.0 1090.9 L4026.0 1091.7 L4032.0 1092.4 L4038.0 1093.1 L4044.0 1093.8 L4050.0 1094.6 L4056.0 1095.3 L4062.0 1096.0 L4068.0 1096.7 L4074.0 1097.5 L4080.0 1098.2 L4086.0 1098.9 L4092.0 1099.7 L4092.5 1099.7 L4092.5 1114.2 L372.0 1114.2 Z" fill="#3300cc"/>
<path d="M372.0 1114.2 L378.0 1114.1 L384.0 1114.1 L390.0 1114.1 L396.0 1114.0 L402.0 1114.0 L408.0 1113.9 L414.0 1113.8 L420.0 1113.6 L426.0 1113.4 L432.0 1113.2 L438.0 1113.0 L444.0 1112.8 L450.0 1112.6 L456.0 1112.5 L462.0 1112.3 L468.0 1112.1 L474.0 1112.0 L480.0 1111.8 L486.0 1111.7 L492.0 1111.6 L498.0 1111.4 L504.0 1111.2 L510.0 1110.9 L516.0 1110.6 L522.0 1110.2 L528.0 1109.7 L534.0 1109.2 L540.0 1108.7 L546.0 1108.1 L552.0 1107.4 L558.0 1106.7 L564.0 1105.9 L570.0 1105.2 L576.0 1104.3 L582.0 1103.5 L588.0 1102.6 L594.0 1101.7 L600.0 1100.7 L606.0 1099.7 L612.0 1098.7 L618.0 1097.6 L624.0 1096.5 L630.0 1095.4 L636.0 1094.2 L642.0 1093.0 L648.0 1091.8 L654.0 1090.5 L660.0 1089.1 L666.0 1087.8 L672.0 1086.4 L678.0 1085.0 L684.0 1083.5 L690.0 1082.1 L696.0 1080.6 L702.0 1079.1 L708.0 1077.7 L714.0 1076.2 L720.0 1074.7 L726.0 1073.2 L732.0 1071.8 L738.0 1070.4 L744.0 1068.9 L750.0 1067.5 L756.0 1066.1 L762.0 1064.7 L768.0 1063.4 L774.0 1062.0 L780.0 1060.7 L786.0 1059.3 L792.0 1058.0 L798.0 1056.7 L804.0 1055.4 L810.0 1054.1 L816.0 1052.8 L822.0 1051.5 L828.0 1050.1 L834.0 1048.7 L840.0 1047.3 L846.0 1045.9 L852.0 1044.4 L858.0 1042.8 L864.0 1041.1 L870.0 1039.4 L876.0 1037.6 L882.0 1035.7 L888.0 1033.8 L894.0 1031.7 L900.0 1029.5 L906.0 1027.2 L912.0 1024.8 L918.0 1022.3 L924.0 1019.6 L930.0 1016.8 L936.0 1013.9 L942.0 1010.8 L948.0 1007.6 L954.0 1004.2 L960.0 1000.7 L966.0 997.1 L972.0 993.3 L978.0 989.5 L984.0 985.5 L990.0 981.3 L996.0 977.1 L1002.0 972.7 L1008.0 968.2 L1014.0 963.7 L1020.0 959.0 L1026.0 954.2 L1032.0 949.4 L1038.0 944.5 L1044.0 939.5 L1050.0 934.5 L1056.0 929.5 L1062.0 924.4 L1068.0 919.3 L1074.0 914.2 L1080.0 909.1 L1086.0 904.0 L1092.0 899.0 L1098.0 893.9 L1104.0 888.9 L1110.0 884.1 L1116.0 879.5 L1122.0 875.1 L1128.0 870.8 L1134.0 866.6 L1140.0 862.4 L1146.0 858.2 L1152.0 853.9 L1158.0 849.6 L1164.0 845.4 L1170.0 841.3 L1176.0 837.3 L1182.0 833.5 L1188.0 829.8 L1194.0 826.2 L1200.0 822.7 L1206.0 819.4 L1212.0 816.2 L1218.0 813.2 L1224.0 810.3 L1230.0 807.6 L1236.0 805.0 L1242.0 802.5 L1248.0 800.1 L1254.0 797.8 L1260.0 795.6 L1266.0 793.5 L1272.0 791.5 L1278.0 789.5 L1284.0 787.7 L1290.0 785.8 L1296.0 784.1 L1302.0 782.4 L1308.0 780.8 L1314.0 779.2 L1320.0 777.7 L1326.0 776.3 L1332.0 774.9 L1338.0 773.7 L1344.0 772.4 L1350.0 771.3 L1356.0 770.2 L1362.0 769.2 L1368.0 768.3 L1374.0 767.4 L1380.0 766.7 L1386.0 766.0 L1392.0 765.5 L1398.0 765.1 L1404.0 764.8 L1410.0 764.6 L1416.0 764.5 L1422.0 764.6 L1428.0 764.9 L1434.0 765.2 L1440.0 765.8 L1446.0 766.4 L1452.0 767.3 L1458.0 768.3 L1464.0 769.4 L1470.0 770.8 L1476.0 772.3 L1482.0 773.9 L1488.0 775.8 L1494.0 777.8 L1500.0 780.1 L1506.0 782.4 L1512.0 784.9 L1518.0 787.4 L1524.0 790.0 L1530.0 792.7 L1536.0 795.3 L1542.0 797.8 L1548.0 800.3 L1554.0 802.7 L1560.0 805.0 L1566.0 807.1 L1572.0 809.0 L1578.0 810.7 L1584.0 812.2 L1590.0 813.5 L1596.0 814.5 L1602.0 815.3 L1608.0 815.8 L1614.0 816.0 L1620.0 816.0 L1626.0 815.7 L1632.0 815.0 L1638.0 814.0 L1644.0 812.7 L1650.0 811.1 L1656.0 809.2 L1662.0 806.9 L1668.0 804.3 L1674.0 801.4 L1680.0 798.2 L1686.0 794.7 L1692.0 790.9 L1698.0 786.8 L1704.0 782.3 L1710.0 777.6 L1716.0 772.7 L1722.0 767.5 L1728.0 762.2 L1734.0 756.7 L1740.0 751.2 L1746.0 745.6 L1752.0 740.0 L1758.0 734.4 L1764.0 728.9 L1770.0 723.4 L1776.0 718.2 L1782.0 713.1 L1788.0 708.2 L1794.0 703.5 L1800.0 698.9 L1806.0 694.6 L1812.0 690.5 L1818.0 686.7 L1824.0 683.1 L1830.0 679.7 L1836.0 676.6 L1842.0 673.8 L1848.0 671.3 L1854.0 669.0 L1860.0 667.0 L1866.0 665.2 L1872.0 663.7 L1878.0 662.4 L1884.0 661.3 L1890.0 660.3 L1896.0 659.6 L1902.0 659.0 L1908.0 658.6 L1914.0 658.4 L1920.0 658.2 L1926.0 658.2 L1932.0 658.2 L1938.0 658.2 L1944.0 658.2 L1950.0 658.2 L1956.0 658.2 L1962.0 658.0 L1968.0 657.7 L1974.0 657.3 L1980.0 656.6 L1986.0 655.8 L1992.0 654.7 L1998.0 653.4 L2004.0 651.8 L2010.0 649.9 L2016.0 647.7 L2022.0 645.2 L2028.0 642.3 L2034.0 639.2 L2040.0 635.6 L2046.0 631.7 L2052.0 627.4 L2058.0 622.7 L2064.0 617.6 L2070.0 612.2 L2076.0 606.4 L2082.0 600.3 L2088.0 594.0 L2094.0 587.4 L2100.0 580.6 L2106.0 573.7 L2112.0 566.5 L2118.0 559.3 L2124.0 551.9 L2130.0 544.5 L2136.0 537.0 L2142.0 529.5 L2148.0 522.0 L2154.0 514.6 L2160.0 507.4 L2166.0 500.2 L2172.0 493.3 L2178.0 486.6 L2184.0 480.1 L2190.0 473.9 L2196.0 468.1 L2202.0 462.5 L2208.0 457.4 L2214.0 452.6 L2220.0 448.1 L2226.0 444.0 L2232.0 440.3 L2238.0 437.0 L2244.0 434.0 L2250.0 431.5 L2256.0 429.3 L2262.0 427.5 L2268.0 426.2 L2274.0 425.2 L2280.0 424.7 L2286.0 424.5 L2292.0 424.8 L2298.0 425.5 L2304.0 426.6 L2310.0 428.1 L2316.0 430.1 L2322.0 432.5 L2328.0 435.3 L2334.0 438.6 L2340.0 442.3 L2346.0 446.3 L2352.0 450.7 L2358.0 455.3 L2364.0 460.2 L2370.0 465.2 L2376.0 470.3 L2382.0 475.4 L2388.0 480.6 L2394.0 485.7 L2400.0 490.7 L2406.0 495.5 L2412.0 500.2 L2418.0 504.7 L2424.0 509.0 L2430.0 513.1 L2436.0 517.0 L2442.0 520.7 L2448.0 524.2 L2454.0 527.5 L2460.0 530.6 L2466.0 533.4 L2472.0 536.0 L2478.0 538.3 L2484.0 540.5 L2490.0 542.3 L2496.0 543.9 L2502.0 545.3 L2508.0 546.4 L2514.0 547.3 L2520.0 547.9 L2526.0 548.2 L2532.0 548.3 L2538.0 548.1 L2544.0 547.6 L2550.0 546.9 L2556.0 545.9 L2562.0 544.7 L2568.0 543.3 L2574.0 541.8 L2580.0 540.1 L2586.0 538.4 L2592.0 536.6 L2598.0 534.8 L2604.0 532.9 L2610.0 531.1 L2616.0 529.3 L2622.0 527.6 L2628.0 525.9 L2634.0 524.3 L2640.0 522.7 L2646.0 521.2 L2652.0 519.6 L2658.0 518.1 L2664.0 516.6 L2670.0 515.1 L2676.0 513.6 L2682.0 512.1 L2688.0 510.6 L2694.0 509.0 L2700.0 507.5 L2706.0 505.9 L2712.0 504.3 L2718.0 502.8 L2724.0 501.2 L2730.0 499.6 L2736.0 498.1 L2742.0 496.5 L2748.0 495.0 L2754.0 493.5 L2760.0 492.0 L2766.0 490.5 L2772.0 489.0 L2778.0 487.5 L2784.0 486.1 L2790.0 484.7 L2796.0 483.2 L2802.0 481.9 L2808.0 480.5 L2814.0 479.1 L2820.0 477.7 L2826.0 476.4 L2832.0 475.1 L2838.0 473.8 L2844.0 472.6 L2850.0 471.6 L2856.0 470.7 L2862.0 469.9 L2868.0 469.4 L2874.0 469.0 L2880.0 468.9 L2886.0 469.1 L2892.0 469.6 L2898.0 470.4 L2904.0 471.6 L2910.0 473.0 L2916.0 474.7 L2922.0 476.7 L2928.0 479.0 L2934.0 481.5 L2940.0 484.2 L2946.0 487.2 L2952.0 490.3 L2958.0 493.7 L2964.0 497.2 L2970.0 500.9 L2976.0 504.7 L2982.0 508.7 L2988.0 512.7 L2994.0 516.9 L3000.0 521.0 L3006.0 525.2 L3012.0 529.5 L3018.0 533.7 L3024.0 537.9 L3030.0 542.0 L3036.0 546.1 L3042.0 550.0 L3048.0 554.0 L3054.0 557.8 L3060.0 561.6 L3066.0 565.3 L3072.0 569.0 L3078.0 572.6 L3084.0 576.2 L3090.0 579.8 L3096.0 583.3 L3102.0 586.8 L3108.0 590.3 L3114.0 593.7 L3120.0 597.1 L3126.0 600.5 L3132.0 603.9 L3138.0 607.2 L3144.0 610.5 L3150.0 613.7 L3156.0 616.9 L3162.0 620.1 L3168.0 623.2 L3174.0 626.2 L3180.0 629.3 L3186.0 632.3 L3192.0 635.2 L3198.0 638.2 L3204.0 641.3 L3210.0 644.4 L3216.0 647.5 L3222.0 650.7 L3228.0 654.1 L3234.0 657.6 L3240.0 661.2 L3246.0 664.9 L3252.0 668.9 L3258.0 672.9 L3264.0 677.1 L3270.0 681.4 L3276.0 685.8 L3282.0 690.2 L3288.0 694.7 L3294.0 699.2 L3300.0 703.7 L3306.0 708.3 L3312.0 712.8 L3318.0 717.3 L3324.0 721.8 L3330.0 726.2 L3336.0 730.6 L3342.0 735.0 L3348.0 739.4 L3354.0 743.7 L3360.0 748.1 L3366.0 752.4 L3372.0 756.8 L3378.0 761.2 L3384.0 765.6 L3390.0 770.0 L3396.0 774.4 L3402.0 778.8 L3408.0 783.2 L3414.0 787.7 L3420.0 792.1 L3426.0 796.6 L3432.0 801.1 L3438.0 805.6 L3444.0 810.1 L3450.0 814.6 L3456.0 819.1 L3462.0 823.6 L3468.0 828.2 L3474.0 832.7 L3480.0 837.3 L3486.0 841.9 L3492.0 846.6 L3498.0 851.2 L3504.0 855.6 L3510.0 860.0 L3516.0 864.4 L3522.0 868.8 L3528.0 873.3 L3534.0 877.9 L3540.0 882.7 L3546.0 887.8 L3552.0 892.9 L3558.0 898.0 L3564.0 903.1 L3570.0 908.2 L3576.0 913.3 L3582.0 918.4 L3588.0 923.4 L3594.0 928.4 L3600.0 933.4 L3606.0 938.3 L3612.0 943.1 L3618.0 947.9 L3624.0 952.6 L3630.0 957.2 L3636.0 961.7 L3642.0 966.1 L3648.0 970.4 L3654.0 974.7 L3660.0 978.8 L3666.0 982.8 L3672.0 986.6 L3678.0 990.4 L3684.0 994.1 L3690.0 997.6 L3696.0 1001.0 L3702.0 1004.4 L3708.0 1007.7 L3714.0 1010.8 L3720.0 1013.9 L3726.0 1017.0 L3732.0 1019.9 L3738.0 1022.8 L3744.0 1025.6 L3750.0 1028.4 L3756.0 1031.1 L3762.0 1033.7 L3768.0 1036.3 L3774.0 1038.8 L3780.0 1041.2 L3786.0 1043.5 L3792.0 1045.7 L3798.0 1047.9 L3804.0 1050.0 L3810.0 1052.0 L3816.0 1054.0 L3822.0 1055.8 L3828.0 1057.6 L3834.0 1059.4 L3840.0 1061.0 L3846.0 1062.6 L3852.0 1064.1 L3858.0 1065.6 L3864.0 1066.9 L3870.0 1068.3 L3876.0 1069.6 L3882.0 1070.8 L3888.0 1071.9 L3894.0 1073.1 L3900.0 1074.1 L3906.0 1075.2 L3912.0 1076.2 L3918.0 1077.1 L3924.0 1078.1 L3930.0 1079.0 L3936.0 1079.9 L3942.0 1080.7 L3948.0 1081.6 L3954.0 1082.4 L3960.0 1083.2 L3966.0 1084.0 L3972.0 1084.8 L3978.0 1085.6 L3984.0 1086.4 L3990.0 1087.2 L3996.0 1087.9 L4002.0 1088.7 L4008.0 1089.5 L4014.0 1090.2 L4020.0 1090.9 L4026.0 1091.7 L4032.0 1092.4 L4038.0 1093.1 L4044.0 1093.8 L4050.0 1094.6 L4056.0 1095.3 L4062.0 1096.0 L4068.0 1096.7 L4074.0 1097.5 L4080.0 1098.2 L4086.0 1098.9 L4092.0 1099.7 L4092.5 1099.7" fill="none" stroke="#f0f0f0" stroke-width="4.2" stroke-linejoin="round"/>
<path d="M372.0 1113.9 H4092.5" stroke="#3300cc" stroke-width="1.1" fill="none"/>
<path d="M372.0 1363.1 L378.0 1362.9 L384.0 1362.7 L390.0 1362.5 L396.0 1362.3 L402.0 1362.1 L408.0 1362.0 L414.0 1361.8 L420.0 1361.6 L426.0 1361.5 L432.0 1361.3 L438.0 1361.2 L444.0 1361.1 L450.0 1360.9 L456.0 1360.7 L462.0 1360.5 L468.0 1360.2 L474.0 1359.9 L480.0 1359.4 L486.0 1359.0 L492.0 1358.4 L498.0 1357.8 L504.0 1357.1 L510.0 1356.4 L516.0 1355.5 L522.0 1354.6 L528.0 1353.6 L534.0 1352.5 L540.0 1351.3 L546.0 1350.0 L552.0 1348.7 L558.0 1347.2 L564.0 1345.7 L570.0 1344.1 L576.0 1342.4 L582.0 1340.5 L588.0 1338.6 L594.0 1336.6 L600.0 1334.5 L606.0 1332.4 L612.0 1330.2 L618.0 1327.9 L624.0 1325.5 L630.0 1323.2 L636.0 1320.7 L642.0 1318.3 L648.0 1315.8 L654.0 1313.3 L660.0 1310.8 L666.0 1308.3 L672.0 1305.9 L678.0 1303.4 L684.0 1301.0 L690.0 1298.6 L696.0 1296.3 L702.0 1294.1 L708.0 1292.0 L714.0 1289.9 L720.0 1287.9 L726.0 1286.1 L732.0 1284.4 L738.0 1282.8 L744.0 1281.3 L750.0 1280.0 L756.0 1278.8 L762.0 1277.8 L768.0 1276.8 L774.0 1276.1 L780.0 1275.5 L786.0 1275.0 L792.0 1274.7 L798.0 1274.5 L804.0 1274.5 L810.0 1274.6 L816.0 1274.9 L822.0 1275.2 L828.0 1275.7 L834.0 1276.3 L840.0 1276.9 L846.0 1277.7 L852.0 1278.5 L858.0 1279.3 L864.0 1280.2 L870.0 1281.2 L876.0 1282.1 L882.0 1283.1 L888.0 1284.0 L894.0 1285.0 L900.0 1285.8 L906.0 1286.6 L912.0 1287.4 L918.0 1288.0 L924.0 1288.6 L930.0 1289.0 L936.0 1289.2 L942.0 1289.4 L948.0 1289.3 L954.0 1289.2 L960.0 1288.8 L966.0 1288.4 L972.0 1287.8 L978.0 1287.0 L984.0 1286.1 L990.0 1285.1 L996.0 1283.9 L1002.0 1282.5 L1008.0 1281.0 L1014.0 1279.4 L1020.0 1277.7 L1026.0 1275.8 L1032.0 1273.9 L1038.0 1271.8 L1044.0 1269.7 L1050.0 1267.5 L1056.0 1265.3 L1062.0 1263.0 L1068.0 1260.7 L1074.0 1258.4 L1080.0 1256.0 L1086.0 1253.7 L1092.0 1251.4 L1098.0 1249.1 L1104.0 1246.8 L1110.0 1244.5 L1116.0 1242.3 L1122.0 1240.1 L1128.0 1237.9 L1134.0 1235.8 L1140.0 1233.8 L1146.0 1231.9 L1152.0 1230.0 L1158.0 1228.1 L1164.0 1226.3 L1170.0 1224.5 L1176.0 1222.8 L1182.0 1221.0 L1188.0 1219.2 L1194.0 1217.4 L1200.0 1215.6 L1206.0 1213.7 L1212.0 1211.7 L1218.0 1209.7 L1224.0 1207.6 L1230.0 1205.3 L1236.0 1202.9 L1242.0 1200.3 L1248.0 1197.5 L1254.0 1194.4 L1260.0 1191.1 L1266.0 1187.5 L1272.0 1183.6 L1278.0 1179.3 L1284.0 1174.6 L1290.0 1169.6 L1296.0 1164.2 L1302.0 1158.6 L1308.0 1152.6 L1314.0 1146.5 L1320.0 1140.2 L1326.0 1133.9 L1332.0 1127.6 L1338.0 1121.3 L1344.0 1115.0 L1350.0 1108.6 L1356.0 1102.0 L1362.0 1095.3 L1368.0 1088.3 L1374.0 1081.4 L1380.0 1074.6 L1386.0 1067.8 L1392.0 1061.2 L1398.0 1054.8 L1404.0 1048.6 L1410.0 1042.5 L1416.0 1036.7 L1422.0 1031.2 L1428.0 1026.0 L1434.0 1021.1 L1440.0 1016.5 L1446.0 1012.2 L1452.0 1008.4 L1458.0 1004.9 L1464.0 1001.9 L1470.0 999.2 L1476.0 997.1 L1482.0 995.4 L1488.0 994.2 L1494.0 993.5 L1500.0 993.3 L1506.0 993.6 L1512.0 994.3 L1518.0 995.4 L1524.0 996.9 L1530.0 998.7 L1536.0 1000.8 L1542.0 1003.1 L1548.0 1005.7 L1554.0 1008.4 L1560.0 1011.3 L1566.0 1014.3 L1572.0 1017.3 L1578.0 1020.4 L1584.0 1023.3 L1590.0 1026.2 L1596.0 1028.9 L1602.0 1031.4 L1608.0 1033.6 L1614.0 1035.5 L1620.0 1036.9 L1626.0 1038.0 L1632.0 1038.5 L1638.0 1038.5 L1644.0 1038.0 L1650.0 1036.9 L1656.0 1035.2 L1662.0 1033.1 L1668.0 1030.4 L1674.0 1027.3 L1680.0 1023.6 L1686.0 1019.4 L1692.0 1014.8 L1698.0 1009.6 L1704.0 1004.0 L1710.0 998.0 L1716.0 991.5 L1722.0 984.7 L1728.0 977.7 L1734.0 970.4 L1740.0 962.9 L1746.0 955.3 L1752.0 947.7 L1758.0 940.1 L1764.0 932.5 L1770.0 925.0 L1776.0 917.7 L1782.0 910.6 L1788.0 903.8 L1794.0 897.1 L1800.0 890.8 L1806.0 884.7 L1812.0 879.0 L1818.0 873.6 L1824.0 868.6 L1830.0 864.1 L1836.0 859.9 L1842.0 856.2 L1848.0 852.9 L1854.0 850.1 L1860.0 847.8 L1866.0 845.9 L1872.0 844.4 L1878.0 843.4 L1884.0 842.7 L1890.0 842.4 L1896.0 842.5 L1902.0 842.9 L1908.0 843.6 L1914.0 844.7 L1920.0 846.1 L1926.0 847.7 L1932.0 849.6 L1938.0 851.6 L1944.0 853.7 L1950.0 856.0 L1956.0 858.2 L1962.0 860.5 L1968.0 862.7 L1974.0 864.8 L1980.0 866.7 L1986.0 868.5 L1992.0 870.1 L1998.0 871.4 L2004.0 872.6 L2010.0 873.4 L2016.0 874.0 L2022.0 874.4 L2028.0 874.4 L2034.0 874.2 L2040.0 873.7 L2046.0 872.8 L2052.0 871.6 L2058.0 870.1 L2064.0 868.2 L2070.0 866.1 L2076.0 863.7 L2082.0 861.1 L2088.0 858.3 L2094.0 855.3 L2100.0 852.2 L2106.0 849.0 L2112.0 845.8 L2118.0 842.5 L2124.0 839.2 L2130.0 836.0 L2136.0 832.8 L2142.0 829.6 L2148.0 826.5 L2154.0 823.5 L2160.0 820.5 L2166.0 817.7 L2172.0 815.0 L2178.0 812.4 L2184.0 809.9 L2190.0 807.6 L2196.0 805.4 L2202.0 803.5 L2208.0 801.6 L2214.0 800.0 L2220.0 798.5 L2226.0 797.2 L2232.0 796.0 L2238.0 795.0 L2244.0 794.1 L2250.0 793.4 L2256.0 792.9 L2262.0 792.5 L2268.0 792.2 L2274.0 792.1 L2280.0 792.1 L2286.0 792.2 L2292.0 792.4 L2298.0 792.7 L2304.0 793.0 L2310.0 793.4 L2316.0 793.8 L2322.0 794.3 L2328.0 794.7 L2334.0 795.2 L2340.0 795.6 L2346.0 796.0 L2352.0 796.4 L2358.0 796.7 L2364.0 797.0 L2370.0 797.3 L2376.0 797.5 L2382.0 797.7 L2388.0 797.8 L2394.0 797.8 L2400.0 797.8 L2406.0 797.6 L2412.0 797.4 L2418.0 797.1 L2424.0 796.7 L2430.0 796.2 L2436.0 795.5 L2442.0 794.6 L2448.0 793.6 L2454.0 792.3 L2460.0 790.8 L2466.0 789.2 L2472.0 787.2 L2478.0 785.0 L2484.0 782.6 L2490.0 779.9 L2496.0 777.0 L2502.0 773.9 L2508.0 770.7 L2514.0 767.2 L2520.0 763.6 L2526.0 759.8 L2532.0 755.9 L2538.0 751.9 L2544.0 747.8 L2550.0 743.7 L2556.0 739.4 L2562.0 735.1 L2568.0 730.7 L2574.0 726.2 L2580.0 721.7 L2586.0 717.2 L2592.0 712.7 L2598.0 708.1 L2604.0 703.6 L2610.0 699.0 L2616.0 694.5 L2622.0 690.0 L2628.0 685.5 L2634.0 681.1 L2640.0 676.8 L2646.0 672.5 L2652.0 668.3 L2658.0 664.2 L2664.0 660.2 L2670.0 656.4 L2676.0 652.7 L2682.0 649.1 L2688.0 645.7 L2694.0 642.4 L2700.0 639.4 L2706.0 636.5 L2712.0 633.8 L2718.0 631.3 L2724.0 629.0 L2730.0 626.9 L2736.0 625.0 L2742.0 623.3 L2748.0 621.9 L2754.0 620.6 L2760.0 619.6 L2766.0 618.9 L2772.0 618.4 L2778.0 618.1 L2784.0 618.1 L2790.0 618.3 L2796.0 618.8 L2802.0 619.5 L2808.0 620.5 L2814.0 621.8 L2820.0 623.3 L2826.0 625.1 L2832.0 627.2 L2838.0 629.4 L2844.0 631.9 L2850.0 634.6 L2856.0 637.5 L2862.0 640.6 L2868.0 643.7 L2874.0 647.0 L2880.0 650.5 L2886.0 654.0 L2892.0 657.5 L2898.0 661.2 L2904.0 664.9 L2910.0 668.6 L2916.0 672.5 L2922.0 676.5 L2928.0 680.6 L2934.0 684.9 L2940.0 689.4 L2946.0 694.0 L2952.0 698.8 L2958.0 703.9 L2964.0 709.2 L2970.0 714.7 L2976.0 720.4 L2982.0 726.5 L2988.0 732.7 L2994.0 739.2 L3000.0 746.0 L3006.0 753.0 L3012.0 760.2 L3018.0 767.7 L3024.0 775.5 L3030.0 783.5 L3036.0 791.7 L3042.0 800.1 L3048.0 808.8 L3054.0 817.5 L3060.0 826.3 L3066.0 835.1 L3072.0 843.8 L3078.0 852.5 L3084.0 861.0 L3090.0 869.3 L3096.0 877.4 L3102.0 885.2 L3108.0 892.6 L3114.0 899.7 L3120.0 906.5 L3126.0 913.0 L3132.0 919.2 L3138.0 925.1 L3144.0 930.7 L3150.0 936.1 L3156.0 941.3 L3162.0 946.3 L3168.0 951.0 L3174.0 955.6 L3180.0 960.0 L3186.0 964.2 L3192.0 968.3 L3198.0 972.2 L3204.0 976.0 L3210.0 979.6 L3216.0 983.1 L3222.0 986.4 L3228.0 989.6 L3234.0 992.6 L3240.0 995.6 L3246.0 998.4 L3252.0 1001.1 L3258.0 1003.7 L3264.0 1006.3 L3270.0 1008.8 L3276.0 1011.2 L3282.0 1013.6 L3288.0 1016.0 L3294.0 1018.3 L3300.0 1020.7 L3306.0 1023.1 L3312.0 1025.6 L3318.0 1028.1 L3324.0 1030.7 L3330.0 1033.2 L3336.0 1035.9 L3342.0 1038.5 L3348.0 1041.2 L3354.0 1043.8 L3360.0 1046.5 L3366.0 1049.1 L3372.0 1051.7 L3378.0 1054.3 L3384.0 1056.9 L3390.0 1059.4 L3396.0 1061.9 L3402.0 1064.3 L3408.0 1066.6 L3414.0 1068.9 L3420.0 1071.2 L3426.0 1073.4 L3432.0 1075.6 L3438.0 1077.7 L3444.0 1079.8 L3450.0 1081.8 L3456.0 1083.7 L3462.0 1085.6 L3468.0 1087.4 L3474.0 1089.2 L3480.0 1090.9 L3486.0 1092.5 L3492.0 1094.1 L3498.0 1095.6 L3504.0 1097.0 L3510.0 1098.4 L3516.0 1099.7 L3522.0 1100.9 L3528.0 1102.1 L3534.0 1103.1 L3540.0 1104.2 L3546.0 1105.2 L3552.0 1106.3 L3558.0 1107.3 L3564.0 1108.4 L3570.0 1109.5 L3576.0 1110.8 L3582.0 1112.0 L3588.0 1113.3 L3594.0 1114.5 L3600.0 1115.9 L3606.0 1117.3 L3612.0 1119.0 L3618.0 1120.9 L3624.0 1123.1 L3630.0 1125.5 L3636.0 1128.2 L3642.0 1131.1 L3648.0 1134.2 L3654.0 1137.4 L3660.0 1140.8 L3666.0 1144.5 L3672.0 1148.3 L3678.0 1152.3 L3684.0 1156.5 L3690.0 1160.8 L3696.0 1165.3 L3702.0 1169.9 L3708.0 1174.6 L3714.0 1179.4 L3720.0 1184.3 L3726.0 1189.2 L3732.0 1194.2 L3738.0 1199.3 L3744.0 1204.4 L3750.0 1209.5 L3756.0 1214.5 L3762.0 1219.6 L3768.0 1224.7 L3774.0 1229.6 L3780.0 1234.6 L3786.0 1239.4 L3792.0 1244.1 L3798.0 1248.8 L3804.0 1253.3 L3810.0 1257.6 L3816.0 1261.8 L3822.0 1265.9 L3828.0 1269.8 L3834.0 1273.6 L3840.0 1277.1 L3846.0 1280.6 L3852.0 1283.8 L3858.0 1286.9 L3864.0 1289.8 L3870.0 1292.5 L3876.0 1295.0 L3882.0 1297.3 L3888.0 1299.5 L3894.0 1301.5 L3900.0 1303.3 L3906.0 1305.0 L3912.0 1306.6 L3918.0 1308.1 L3924.0 1309.5 L3930.0 1310.8 L3936.0 1312.0 L3942.0 1313.1 L3948.0 1314.2 L3954.0 1315.3 L3960.0 1316.3 L3966.0 1317.3 L3972.0 1318.2 L3978.0 1319.1 L3984.0 1320.0 L3990.0 1320.9 L3996.0 1321.7 L4002.0 1322.6 L4008.0 1323.4 L4014.0 1324.2 L4020.0 1325.1 L4026.0 1325.9 L4032.0 1326.8 L4038.0 1327.7 L4044.0 1328.6 L4050.0 1329.5 L4056.0 1330.4 L4062.0 1331.4 L4068.0 1332.5 L4074.0 1333.6 L4080.0 1334.7 L4086.0 1335.9 L4092.0 1337.1 L4092.5 1337.2 L4092.5 1363.5 L372.0 1363.5 Z" fill="#660099"/>
<path d="M372.0 1363.1 L378.0 1362.9 L384.0 1362.7 L390.0 1362.5 L396.0 1362.3 L402.0 1362.1 L408.0 1362.0 L414.0 1361.8 L420.0 1361.6 L426.0 1361.5 L432.0 1361.3 L438.0 1361.2 L444.0 1361.1 L450.0 1360.9 L456.0 1360.7 L462.0 1360.5 L468.0 1360.2 L474.0 1359.9 L480.0 1359.4 L486.0 1359.0 L492.0 1358.4 L498.0 1357.8 L504.0 1357.1 L510.0 1356.4 L516.0 1355.5 L522.0 1354.6 L528.0 1353.6 L534.0 1352.5 L540.0 1351.3 L546.0 1350.0 L552.0 1348.7 L558.0 1347.2 L564.0 1345.7 L570.0 1344.1 L576.0 1342.4 L582.0 1340.5 L588.0 1338.6 L594.0 1336.6 L600.0 1334.5 L606.0 1332.4 L612.0 1330.2 L618.0 1327.9 L624.0 1325.5 L630.0 1323.2 L636.0 1320.7 L642.0 1318.3 L648.0 1315.8 L654.0 1313.3 L660.0 1310.8 L666.0 1308.3 L672.0 1305.9 L678.0 1303.4 L684.0 1301.0 L690.0 1298.6 L696.0 1296.3 L702.0 1294.1 L708.0 1292.0 L714.0 1289.9 L720.0 1287.9 L726.0 1286.1 L732.0 1284.4 L738.0 1282.8 L744.0 1281.3 L750.0 1280.0 L756.0 1278.8 L762.0 1277.8 L768.0 1276.8 L774.0 1276.1 L780.0 1275.5 L786.0 1275.0 L792.0 1274.7 L798.0 1274.5 L804.0 1274.5 L810.0 1274.6 L816.0 1274.9 L822.0 1275.2 L828.0 1275.7 L834.0 1276.3 L840.0 1276.9 L846.0 1277.7 L852.0 1278.5 L858.0 1279.3 L864.0 1280.2 L870.0 1281.2 L876.0 1282.1 L882.0 1283.1 L888.0 1284.0 L894.0 1285.0 L900.0 1285.8 L906.0 1286.6 L912.0 1287.4 L918.0 1288.0 L924.0 1288.6 L930.0 1289.0 L936.0 1289.2 L942.0 1289.4 L948.0 1289.3 L954.0 1289.2 L960.0 1288.8 L966.0 1288.4 L972.0 1287.8 L978.0 1287.0 L984.0 1286.1 L990.0 1285.1 L996.0 1283.9 L1002.0 1282.5 L1008.0 1281.0 L1014.0 1279.4 L1020.0 1277.7 L1026.0 1275.8 L1032.0 1273.9 L1038.0 1271.8 L1044.0 1269.7 L1050.0 1267.5 L1056.0 1265.3 L1062.0 1263.0 L1068.0 1260.7 L1074.0 1258.4 L1080.0 1256.0 L1086.0 1253.7 L1092.0 1251.4 L1098.0 1249.1 L1104.0 1246.8 L1110.0 1244.5 L1116.0 1242.3 L1122.0 1240.1 L1128.0 1237.9 L1134.0 1235.8 L1140.0 1233.8 L1146.0 1231.9 L1152.0 1230.0 L1158.0 1228.1 L1164.0 1226.3 L1170.0 1224.5 L1176.0 1222.8 L1182.0 1221.0 L1188.0 1219.2 L1194.0 1217.4 L1200.0 1215.6 L1206.0 1213.7 L1212.0 1211.7 L1218.0 1209.7 L1224.0 1207.6 L1230.0 1205.3 L1236.0 1202.9 L1242.0 1200.3 L1248.0 1197.5 L1254.0 1194.4 L1260.0 1191.1 L1266.0 1187.5 L1272.0 1183.6 L1278.0 1179.3 L1284.0 1174.6 L1290.0 1169.6 L1296.0 1164.2 L1302.0 1158.6 L1308.0 1152.6 L1314.0 1146.5 L1320.0 1140.2 L1326.0 1133.9 L1332.0 1127.6 L1338.0 1121.3 L1344.0 1115.0 L1350.0 1108.6 L1356.0 1102.0 L1362.0 1095.3 L1368.0 1088.3 L1374.0 1081.4 L1380.0 1074.6 L1386.0 1067.8 L1392.0 1061.2 L1398.0 1054.8 L1404.0 1048.6 L1410.0 1042.5 L1416.0 1036.7 L1422.0 1031.2 L1428.0 1026.0 L1434.0 1021.1 L1440.0 1016.5 L1446.0 1012.2 L1452.0 1008.4 L1458.0 1004.9 L1464.0 1001.9 L1470.0 999.2 L1476.0 997.1 L1482.0 995.4 L1488.0 994.2 L1494.0 993.5 L1500.0 993.3 L1506.0 993.6 L1512.0 994.3 L1518.0 995.4 L1524.0 996.9 L1530.0 998.7 L1536.0 1000.8 L1542.0 1003.1 L1548.0 1005.7 L1554.0 1008.4 L1560.0 1011.3 L1566.0 1014.3 L1572.0 1017.3 L1578.0 1020.4 L1584.0 1023.3 L1590.0 1026.2 L1596.0 1028.9 L1602.0 1031.4 L1608.0 1033.6 L1614.0 1035.5 L1620.0 1036.9 L1626.0 1038.0 L1632.0 1038.5 L1638.0 1038.5 L1644.0 1038.0 L1650.0 1036.9 L1656.0 1035.2 L1662.0 1033.1 L1668.0 1030.4 L1674.0 1027.3 L1680.0 1023.6 L1686.0 1019.4 L1692.0 1014.8 L1698.0 1009.6 L1704.0 1004.0 L1710.0 998.0 L1716.0 991.5 L1722.0 984.7 L1728.0 977.7 L1734.0 970.4 L1740.0 962.9 L1746.0 955.3 L1752.0 947.7 L1758.0 940.1 L1764.0 932.5 L1770.0 925.0 L1776.0 917.7 L1782.0 910.6 L1788.0 903.8 L1794.0 897.1 L1800.0 890.8 L1806.0 884.7 L1812.0 879.0 L1818.0 873.6 L1824.0 868.6 L1830.0 864.1 L1836.0 859.9 L1842.0 856.2 L1848.0 852.9 L1854.0 850.1 L1860.0 847.8 L1866.0 845.9 L1872.0 844.4 L1878.0 843.4 L1884.0 842.7 L1890.0 842.4 L1896.0 842.5 L1902.0 842.9 L1908.0 843.6 L1914.0 844.7 L1920.0 846.1 L1926.0 847.7 L1932.0 849.6 L1938.0 851.6 L1944.0 853.7 L1950.0 856.0 L1956.0 858.2 L1962.0 860.5 L1968.0 862.7 L1974.0 864.8 L1980.0 866.7 L1986.0 868.5 L1992.0 870.1 L1998.0 871.4 L2004.0 872.6 L2010.0 873.4 L2016.0 874.0 L2022.0 874.4 L2028.0 874.4 L2034.0 874.2 L2040.0 873.7 L2046.0 872.8 L2052.0 871.6 L2058.0 870.1 L2064.0 868.2 L2070.0 866.1 L2076.0 863.7 L2082.0 861.1 L2088.0 858.3 L2094.0 855.3 L2100.0 852.2 L2106.0 849.0 L2112.0 845.8 L2118.0 842.5 L2124.0 839.2 L2130.0 836.0 L2136.0 832.8 L2142.0 829.6 L2148.0 826.5 L2154.0 823.5 L2160.0 820.5 L2166.0 817.7 L2172.0 815.0 L2178.0 812.4 L2184.0 809.9 L2190.0 807.6 L2196.0 805.4 L2202.0 803.5 L2208.0 801.6 L2214.0 800.0 L2220.0 798.5 L2226.0 797.2 L2232.0 796.0 L2238.0 795.0 L2244.0 794.1 L2250.0 793.4 L2256.0 792.9 L2262.0 792.5 L2268.0 792.2 L2274.0 792.1 L2280.0 792.1 L2286.0 792.2 L2292.0 792.4 L2298.0 792.7 L2304.0 793.0 L2310.0 793.4 L2316.0 793.8 L2322.0 794.3 L2328.0 794.7 L2334.0 795.2 L2340.0 795.6 L2346.0 796.0 L2352.0 796.4 L2358.0 796.7 L2364.0 797.0 L2370.0 797.3 L2376.0 797.5 L2382.0 797.7 L2388.0 797.8 L2394.0 797.8 L2400.0 797.8 L2406.0 797.6 L2412.0 797.4 L2418.0 797.1 L2424.0 796.7 L2430.0 796.2 L2436.0 795.5 L2442.0 794.6 L2448.0 793.6 L2454.0 792.3 L2460.0 790.8 L2466.0 789.2 L2472.0 787.2 L2478.0 785.0 L2484.0 782.6 L2490.0 779.9 L2496.0 777.0 L2502.0 773.9 L2508.0 770.7 L2514.0 767.2 L2520.0 763.6 L2526.0 759.8 L2532.0 755.9 L2538.0 751.9 L2544.0 747.8 L2550.0 743.7 L2556.0 739.4 L2562.0 735.1 L2568.0 730.7 L2574.0 726.2 L2580.0 721.7 L2586.0 717.2 L2592.0 712.7 L2598.0 708.1 L2604.0 703.6 L2610.0 699.0 L2616.0 694.5 L2622.0 690.0 L2628.0 685.5 L2634.0 681.1 L2640.0 676.8 L2646.0 672.5 L2652.0 668.3 L2658.0 664.2 L2664.0 660.2 L2670.0 656.4 L2676.0 652.7 L2682.0 649.1 L2688.0 645.7 L2694.0 642.4 L2700.0 639.4 L2706.0 636.5 L2712.0 633.8 L2718.0 631.3 L2724.0 629.0 L2730.0 626.9 L2736.0 625.0 L2742.0 623.3 L2748.0 621.9 L2754.0 620.6 L2760.0 619.6 L2766.0 618.9 L2772.0 618.4 L2778.0 618.1 L2784.0 618.1 L2790.0 618.3 L2796.0 618.8 L2802.0 619.5 L2808.0 620.5 L2814.0 621.8 L2820.0 623.3 L2826.0 625.1 L2832.0 627.2 L2838.0 629.4 L2844.0 631.9 L2850.0 634.6 L2856.0 637.5 L2862.0 640.6 L2868.0 643.7 L2874.0 647.0 L2880.0 650.5 L2886.0 654.0 L2892.0 657.5 L2898.0 661.2 L2904.0 664.9 L2910.0 668.6 L2916.0 672.5 L2922.0 676.5 L2928.0 680.6 L2934.0 684.9 L2940.0 689.4 L2946.0 694.0 L2952.0 698.8 L2958.0 703.9 L2964.0 709.2 L2970.0 714.7 L2976.0 720.4 L2982.0 726.5 L2988.0 732.7 L2994.0 739.2 L3000.0 746.0 L3006.0 753.0 L3012.0 760.2 L3018.0 767.7 L3024.0 775.5 L3030.0 783.5 L3036.0 791.7 L3042.0 800.1 L3048.0 808.8 L3054.0 817.5 L3060.0 826.3 L3066.0 835.1 L3072.0 843.8 L3078.0 852.5 L3084.0 861.0 L3090.0 869.3 L3096.0 877.4 L3102.0 885.2 L3108.0 892.6 L3114.0 899.7 L3120.0 906.5 L3126.0 913.0 L3132.0 919.2 L3138.0 925.1 L3144.0 930.7 L3150.0 936.1 L3156.0 941.3 L3162.0 946.3 L3168.0 951.0 L3174.0 955.6 L3180.0 960.0 L3186.0 964.2 L3192.0 968.3 L3198.0 972.2 L3204.0 976.0 L3210.0 979.6 L3216.0 983.1 L3222.0 986.4 L3228.0 989.6 L3234.0 992.6 L3240.0 995.6 L3246.0 998.4 L3252.0 1001.1 L3258.0 1003.7 L3264.0 1006.3 L3270.0 1008.8 L3276.0 1011.2 L3282.0 1013.6 L3288.0 1016.0 L3294.0 1018.3 L3300.0 1020.7 L3306.0 1023.1 L3312.0 1025.6 L3318.0 1028.1 L3324.0 1030.7 L3330.0 1033.2 L3336.0 1035.9 L3342.0 1038.5 L3348.0 1041.2 L3354.0 1043.8 L3360.0 1046.5 L3366.0 1049.1 L3372.0 1051.7 L3378.0 1054.3 L3384.0 1056.9 L3390.0 1059.4 L3396.0 1061.9 L3402.0 1064.3 L3408.0 1066.6 L3414.0 1068.9 L3420.0 1071.2 L3426.0 1073.4 L3432.0 1075.6 L3438.0 1077.7 L3444.0 1079.8 L3450.0 1081.8 L3456.0 1083.7 L3462.0 1085.6 L3468.0 1087.4 L3474.0 1089.2 L3480.0 1090.9 L3486.0 1092.5 L3492.0 1094.1 L3498.0 1095.6 L3504.0 1097.0 L3510.0 1098.4 L3516.0 1099.7 L3522.0 1100.9 L3528.0 1102.1 L3534.0 1103.1 L3540.0 1104.2 L3546.0 1105.2 L3552.0 1106.3 L3558.0 1107.3 L3564.0 1108.4 L3570.0 1109.5 L3576.0 1110.8 L3582.0 1112.0 L3588.0 1113.3 L3594.0 1114.5 L3600.0 1115.9 L3606.0 1117.3 L3612.0 1119.0 L3618.0 1120.9 L3624.0 1123.1 L3630.0 1125.5 L3636.0 1128.2 L3642.0 1131.1 L3648.0 1134.2 L3654.0 1137.4 L3660.0 1140.8 L3666.0 1144.5 L3672.0 1148.3 L3678.0 1152.3 L3684.0 1156.5 L3690.0 1160.8 L3696.0 1165.3 L3702.0 1169.9 L3708.0 1174.6 L3714.0 1179.4 L3720.0 1184.3 L3726.0 1189.2 L3732.0 1194.2 L3738.0 1199.3 L3744.0 1204.4 L3750.0 1209.5 L3756.0 1214.5 L3762.0 1219.6 L3768.0 1224.7 L3774.0 1229.6 L3780.0 1234.6 L3786.0 1239.4 L3792.0 1244.1 L3798.0 1248.8 L3804.0 1253.3 L3810.0 1257.6 L3816.0 1261.8 L3822.0 1265.9 L3828.0 1269.8 L3834.0 1273.6 L3840.0 1277.1 L3846.0 1280.6 L3852.0 1283.8 L3858.0 1286.9 L3864.0 1289.8 L3870.0 1292.5 L3876.0 1295.0 L3882.0 1297.3 L3888.0 1299.5 L3894.0 1301.5 L3900.0 1303.3 L3906.0 1305.0 L3912.0 1306.6 L3918.0 1308.1 L3924.0 1309.5 L3930.0 1310.8 L3936.0 1312.0 L3942.0 1313.1 L3948.0 1314.2 L3954.0 1315.3 L3960.0 1316.3 L3966.0 1317.3 L3972.0 1318.2 L3978.0 1319.1 L3984.0 1320.0 L3990.0 1320.9 L3996.0 1321.7 L4002.0 1322.6 L4008.0 1323.4 L4014.0 1324.2 L4020.0 1325.1 L4026.0 1325.9 L4032.0 1326.8 L4038.0 1327.7 L4044.0 1328.6 L4050.0 1329.5 L4056.0 1330.4 L4062.0 1331.4 L4068.0 1332.5 L4074.0 1333.6 L4080.0 1334.7 L4086.0 1335.9 L4092.0 1337.1 L4092.5 1337.2" fill="none" stroke="#f0f0f0" stroke-width="4.2" stroke-linejoin="round"/>
<path d="M372.0 1363.2 H4092.5" stroke="#660099" stroke-width="1.1" fill="none"/>
<path d="M372.0 1613.1 L378.0 1613.1 L384.0 1613.1 L390.0 1613.1 L396.0 1613.1 L402.0 1613.0 L408.0 1613.0 L414.0 1613.0 L420.0 1613.0 L426.0 1612.9 L432.0 1612.8 L438.0 1612.7 L444.0 1612.6 L450.0 1612.4 L456.0 1612.3 L462.0 1612.1 L468.0 1611.9 L474.0 1611.7 L480.0 1611.6 L486.0 1611.4 L492.0 1611.2 L498.0 1611.0 L504.0 1610.9 L510.0 1610.7 L516.0 1610.5 L522.0 1610.3 L528.0 1610.1 L534.0 1609.8 L540.0 1609.4 L546.0 1609.1 L552.0 1608.7 L558.0 1608.2 L564.0 1607.8 L570.0 1607.3 L576.0 1606.8 L582.0 1606.3 L588.0 1605.8 L594.0 1605.2 L600.0 1604.7 L606.0 1604.1 L612.0 1603.5 L618.0 1602.9 L624.0 1602.2 L630.0 1601.5 L636.0 1600.8 L642.0 1600.1 L648.0 1599.3 L654.0 1598.5 L660.0 1597.7 L666.0 1596.8 L672.0 1595.9 L678.0 1595.0 L684.0 1594.1 L690.0 1593.2 L696.0 1592.2 L702.0 1591.3 L708.0 1590.3 L714.0 1589.4 L720.0 1588.4 L726.0 1587.5 L732.0 1586.6 L738.0 1585.7 L744.0 1584.8 L750.0 1583.9 L756.0 1583.0 L762.0 1582.1 L768.0 1581.2 L774.0 1580.3 L780.0 1579.4 L786.0 1578.5 L792.0 1577.6 L798.0 1576.7 L804.0 1575.8 L810.0 1574.8 L816.0 1573.8 L822.0 1572.8 L828.0 1571.7 L834.0 1570.6 L840.0 1569.5 L846.0 1568.2 L852.0 1566.9 L858.0 1565.5 L864.0 1564.1 L870.0 1562.5 L876.0 1560.8 L882.0 1559.0 L888.0 1557.1 L894.0 1555.0 L900.0 1552.8 L906.0 1550.3 L912.0 1547.7 L918.0 1544.8 L924.0 1541.7 L930.0 1538.3 L936.0 1534.7 L942.0 1530.9 L948.0 1526.8 L954.0 1522.5 L960.0 1518.0 L966.0 1513.4 L972.0 1508.6 L978.0 1503.7 L984.0 1498.7 L990.0 1493.6 L996.0 1488.5 L1002.0 1483.3 L1008.0 1478.1 L1014.0 1472.9 L1020.0 1467.7 L1026.0 1462.5 L1032.0 1457.3 L1038.0 1452.0 L1044.0 1446.8 L1050.0 1441.5 L1056.0 1436.3 L1062.0 1431.0 L1068.0 1425.8 L1074.0 1420.6 L1080.0 1415.4 L1086.0 1410.2 L1092.0 1405.2 L1098.0 1400.3 L1104.0 1395.6 L1110.0 1391.2 L1116.0 1387.0 L1122.0 1383.1 L1128.0 1379.5 L1134.0 1376.3 L1140.0 1373.6 L1146.0 1371.2 L1152.0 1369.3 L1158.0 1367.9 L1164.0 1366.7 L1170.0 1366.0 L1176.0 1365.5 L1182.0 1365.4 L1188.0 1365.5 L1194.0 1365.8 L1200.0 1366.4 L1206.0 1367.1 L1212.0 1368.0 L1218.0 1369.0 L1224.0 1370.1 L1230.0 1371.3 L1236.0 1372.6 L1242.0 1374.0 L1248.0 1375.5 L1254.0 1377.0 L1260.0 1378.7 L1266.0 1380.3 L1272.0 1382.0 L1278.0 1383.8 L1284.0 1385.6 L1290.0 1387.4 L1296.0 1389.2 L1302.0 1391.0 L1308.0 1392.8 L1314.0 1394.5 L1320.0 1396.0 L1326.0 1397.5 L1332.0 1398.8 L1338.0 1400.0 L1344.0 1401.0 L1350.0 1401.7 L1356.0 1402.2 L1362.0 1402.5 L1368.0 1402.5 L1374.0 1402.2 L1380.0 1401.7 L1386.0 1400.9 L1392.0 1399.8 L1398.0 1398.5 L1404.0 1396.9 L1410.0 1395.0 L1416.0 1392.8 L1422.0 1390.4 L1428.0 1387.6 L1434.0 1384.6 L1440.0 1381.3 L1446.0 1377.9 L1452.0 1374.4 L1458.0 1370.9 L1464.0 1367.4 L1470.0 1363.9 L1476.0 1360.3 L1482.0 1356.6 L1488.0 1352.8 L1494.0 1348.8 L1500.0 1344.8 L1506.0 1340.8 L1512.0 1336.8 L1518.0 1332.9 L1524.0 1329.0 L1530.0 1325.1 L1536.0 1321.3 L1542.0 1317.5 L1548.0 1313.8 L1554.0 1310.1 L1560.0 1306.5 L1566.0 1302.9 L1572.0 1299.4 L1578.0 1295.9 L1584.0 1292.5 L1590.0 1289.2 L1596.0 1285.9 L1602.0 1282.7 L1608.0 1279.6 L1614.0 1276.5 L1620.0 1273.5 L1626.0 1270.6 L1632.0 1267.7 L1638.0 1265.0 L1644.0 1262.3 L1650.0 1259.6 L1656.0 1257.0 L1662.0 1254.5 L1668.0 1251.9 L1674.0 1249.4 L1680.0 1246.9 L1686.0 1244.3 L1692.0 1241.7 L1698.0 1239.1 L1704.0 1236.4 L1710.0 1233.6 L1716.0 1230.8 L1722.0 1227.9 L1728.0 1225.0 L1734.0 1221.9 L1740.0 1218.9 L1746.0 1215.7 L1752.0 1212.5 L1758.0 1209.1 L1764.0 1205.8 L1770.0 1202.3 L1776.0 1198.8 L1782.0 1195.2 L1788.0 1191.5 L1794.0 1187.8 L1800.0 1184.0 L1806.0 1180.2 L1812.0 1176.3 L1818.0 1172.5 L1824.0 1168.6 L1830.0 1164.7 L1836.0 1160.8 L1842.0 1156.9 L1848.0 1153.0 L1854.0 1149.1 L1860.0 1145.3 L1866.0 1141.5 L1872.0 1137.7 L1878.0 1133.9 L1884.0 1130.2 L1890.0 1126.6 L1896.0 1122.9 L1902.0 1119.4 L1908.0 1115.9 L1914.0 1112.4 L1920.0 1109.1 L1926.0 1105.7 L1932.0 1102.5 L1938.0 1099.3 L1944.0 1096.2 L1950.0 1093.1 L1956.0 1090.1 L1962.0 1087.1 L1968.0 1084.1 L1974.0 1081.3 L1980.0 1078.4 L1986.0 1075.6 L1992.0 1072.8 L1998.0 1070.1 L2004.0 1067.4 L2010.0 1064.8 L2016.0 1062.1 L2022.0 1059.6 L2028.0 1057.0 L2034.0 1054.4 L2040.0 1051.9 L2046.0 1049.4 L2052.0 1046.9 L2058.0 1044.5 L2064.0 1042.0 L2070.0 1039.6 L2076.0 1037.2 L2082.0 1034.9 L2088.0 1032.6 L2094.0 1030.4 L2100.0 1028.2 L2106.0 1026.0 L2112.0 1024.0 L2118.0 1022.0 L2124.0 1020.1 L2130.0 1018.3 L2136.0 1016.6 L2142.0 1014.9 L2148.0 1013.4 L2154.0 1011.9 L2160.0 1010.6 L2166.0 1009.3 L2172.0 1008.2 L2178.0 1007.1 L2184.0 1006.2 L2190.0 1005.4 L2196.0 1004.7 L2202.0 1004.1 L2208.0 1003.6 L2214.0 1003.2 L2220.0 1002.9 L2226.0 1002.8 L2232.0 1002.7 L2238.0 1002.8 L2244.0 1002.9 L2250.0 1003.1 L2256.0 1003.5 L2262.0 1003.9 L2268.0 1004.4 L2274.0 1005.0 L2280.0 1005.6 L2286.0 1006.4 L2292.0 1007.1 L2298.0 1008.0 L2304.0 1008.8 L2310.0 1009.7 L2316.0 1010.6 L2322.0 1011.5 L2328.0 1012.4 L2334.0 1013.2 L2340.0 1014.1 L2346.0 1014.9 L2352.0 1015.7 L2358.0 1016.4 L2364.0 1017.1 L2370.0 1017.6 L2376.0 1018.1 L2382.0 1018.6 L2388.0 1018.9 L2394.0 1019.1 L2400.0 1019.2 L2406.0 1019.1 L2412.0 1018.9 L2418.0 1018.6 L2424.0 1018.1 L2430.0 1017.4 L2436.0 1016.6 L2442.0 1015.5 L2448.0 1014.3 L2454.0 1012.8 L2460.0 1011.1 L2466.0 1009.1 L2472.0 1006.9 L2478.0 1004.5 L2484.0 1001.8 L2490.0 998.8 L2496.0 995.6 L2502.0 992.3 L2508.0 988.7 L2514.0 985.0 L2520.0 981.2 L2526.0 977.2 L2532.0 973.1 L2538.0 968.9 L2544.0 964.7 L2550.0 960.4 L2556.0 956.0 L2562.0 951.6 L2568.0 947.3 L2574.0 943.0 L2580.0 938.7 L2586.0 934.5 L2592.0 930.4 L2598.0 926.4 L2604.0 922.6 L2610.0 918.9 L2616.0 915.4 L2622.0 912.2 L2628.0 909.1 L2634.0 906.3 L2640.0 903.7 L2646.0 901.3 L2652.0 899.2 L2658.0 897.4 L2664.0 895.8 L2670.0 894.5 L2676.0 893.5 L2682.0 892.8 L2688.0 892.4 L2694.0 892.3 L2700.0 892.5 L2706.0 893.0 L2712.0 893.8 L2718.0 894.9 L2724.0 896.2 L2730.0 897.8 L2736.0 899.7 L2742.0 901.8 L2748.0 904.2 L2754.0 906.8 L2760.0 909.6 L2766.0 912.6 L2772.0 915.8 L2778.0 919.2 L2784.0 922.7 L2790.0 926.2 L2796.0 929.9 L2802.0 933.6 L2808.0 937.4 L2814.0 941.2 L2820.0 944.9 L2826.0 948.6 L2832.0 952.3 L2838.0 955.9 L2844.0 959.4 L2850.0 962.9 L2856.0 966.4 L2862.0 969.8 L2868.0 973.2 L2874.0 976.6 L2880.0 979.9 L2886.0 983.2 L2892.0 986.5 L2898.0 989.7 L2904.0 992.9 L2910.0 996.1 L2916.0 999.2 L2922.0 1002.3 L2928.0 1005.4 L2934.0 1008.4 L2940.0 1011.3 L2946.0 1014.2 L2952.0 1017.1 L2958.0 1019.8 L2964.0 1022.6 L2970.0 1025.2 L2976.0 1027.8 L2982.0 1030.4 L2988.0 1033.0 L2994.0 1035.6 L3000.0 1038.3 L3006.0 1041.0 L3012.0 1043.7 L3018.0 1046.6 L3024.0 1049.5 L3030.0 1052.6 L3036.0 1055.9 L3042.0 1059.2 L3048.0 1062.7 L3054.0 1066.3 L3060.0 1070.0 L3066.0 1073.7 L3072.0 1077.4 L3078.0 1081.2 L3084.0 1084.9 L3090.0 1088.6 L3096.0 1092.3 L3102.0 1095.8 L3108.0 1099.3 L3114.0 1102.7 L3120.0 1106.0 L3126.0 1109.3 L3132.0 1112.6 L3138.0 1115.8 L3144.0 1119.1 L3150.0 1122.4 L3156.0 1125.8 L3162.0 1129.2 L3168.0 1132.7 L3174.0 1136.3 L3180.0 1140.0 L3186.0 1143.9 L3192.0 1147.8 L3198.0 1151.8 L3204.0 1155.8 L3210.0 1159.8 L3216.0 1163.9 L3222.0 1168.0 L3228.0 1172.0 L3234.0 1176.1 L3240.0 1180.1 L3246.0 1184.0 L3252.0 1187.8 L3258.0 1191.7 L3264.0 1195.6 L3270.0 1199.6 L3276.0 1203.7 L3282.0 1207.9 L3288.0 1212.3 L3294.0 1217.0 L3300.0 1221.9 L3306.0 1227.1 L3312.0 1232.7 L3318.0 1238.7 L3324.0 1245.0 L3330.0 1251.5 L3336.0 1258.3 L3342.0 1265.3 L3348.0 1272.4 L3354.0 1279.6 L3360.0 1286.8 L3366.0 1294.0 L3372.0 1301.1 L3378.0 1308.1 L3384.0 1314.9 L3390.0 1321.5 L3396.0 1327.9 L3402.0 1334.1 L3408.0 1340.0 L3414.0 1345.7 L3420.0 1350.9 L3426.0 1355.8 L3432.0 1360.4 L3438.0 1364.8 L3444.0 1369.0 L3450.0 1373.2 L3456.0 1377.2 L3462.0 1381.2 L3468.0 1385.0 L3474.0 1388.5 L3480.0 1391.9 L3486.0 1395.0 L3492.0 1397.8 L3498.0 1400.5 L3504.0 1402.9 L3510.0 1405.2 L3516.0 1407.2 L3522.0 1409.0 L3528.0 1410.6 L3534.0 1412.1 L3540.0 1413.3 L3546.0 1414.4 L3552.0 1415.4 L3558.0 1416.3 L3564.0 1417.1 L3570.0 1417.9 L3576.0 1418.6 L3582.0 1419.3 L3588.0 1420.1 L3594.0 1420.8 L3600.0 1421.6 L3606.0 1422.5 L3612.0 1423.4 L3618.0 1424.5 L3624.0 1425.6 L3630.0 1426.7 L3636.0 1428.1 L3642.0 1429.5 L3648.0 1431.0 L3654.0 1432.7 L3660.0 1434.5 L3666.0 1436.5 L3672.0 1438.6 L3678.0 1440.9 L3684.0 1443.3 L3690.0 1445.8 L3696.0 1448.4 L3702.0 1451.1 L3708.0 1453.8 L3714.0 1456.6 L3720.0 1459.4 L3726.0 1462.3 L3732.0 1465.1 L3738.0 1468.0 L3744.0 1470.8 L3750.0 1473.6 L3756.0 1476.4 L3762.0 1479.2 L3768.0 1482.0 L3774.0 1484.7 L3780.0 1487.4 L3786.0 1490.1 L3792.0 1492.7 L3798.0 1495.3 L3804.0 1497.8 L3810.0 1500.3 L3816.0 1502.8 L3822.0 1505.2 L3828.0 1507.5 L3834.0 1509.8 L3840.0 1512.1 L3846.0 1514.3 L3852.0 1516.4 L3858.0 1518.5 L3864.0 1520.5 L3870.0 1522.4 L3876.0 1524.3 L3882.0 1526.1 L3888.0 1527.8 L3894.0 1529.5 L3900.0 1531.1 L3906.0 1532.7 L3912.0 1534.2 L3918.0 1535.7 L3924.0 1537.2 L3930.0 1538.6 L3936.0 1540.0 L3942.0 1541.4 L3948.0 1542.8 L3954.0 1544.1 L3960.0 1545.5 L3966.0 1546.8 L3972.0 1548.1 L3978.0 1549.4 L3984.0 1550.8 L3990.0 1552.1 L3996.0 1553.4 L4002.0 1554.7 L4008.0 1556.0 L4014.0 1557.4 L4020.0 1558.7 L4026.0 1560.1 L4032.0 1561.5 L4038.0 1562.9 L4044.0 1564.4 L4050.0 1565.8 L4056.0 1567.3 L4062.0 1568.9 L4068.0 1570.4 L4074.0 1572.0 L4080.0 1573.7 L4086.0 1575.4 L4092.0 1577.1 L4092.5 1577.2 L4092.5 1613.2 L372.0 1613.2 Z" fill="#990066"/>
<path d="M372.0 1613.1 L378.0 1613.1 L384.0 1613.1 L390.0 1613.1 L396.0 1613.1 L402.0 1613.0 L408.0 1613.0 L414.0 1613.0 L420.0 1613.0 L426.0 1612.9 L432.0 1612.8 L438.0 1612.7 L444.0 1612.6 L450.0 1612.4 L456.0 1612.3 L462.0 1612.1 L468.0 1611.9 L474.0 1611.7 L480.0 1611.6 L486.0 1611.4 L492.0 1611.2 L498.0 1611.0 L504.0 1610.9 L510.0 1610.7 L516.0 1610.5 L522.0 1610.3 L528.0 1610.1 L534.0 1609.8 L540.0 1609.4 L546.0 1609.1 L552.0 1608.7 L558.0 1608.2 L564.0 1607.8 L570.0 1607.3 L576.0 1606.8 L582.0 1606.3 L588.0 1605.8 L594.0 1605.2 L600.0 1604.7 L606.0 1604.1 L612.0 1603.5 L618.0 1602.9 L624.0 1602.2 L630.0 1601.5 L636.0 1600.8 L642.0 1600.1 L648.0 1599.3 L654.0 1598.5 L660.0 1597.7 L666.0 1596.8 L672.0 1595.9 L678.0 1595.0 L684.0 1594.1 L690.0 1593.2 L696.0 1592.2 L702.0 1591.3 L708.0 1590.3 L714.0 1589.4 L720.0 1588.4 L726.0 1587.5 L732.0 1586.6 L738.0 1585.7 L744.0 1584.8 L750.0 1583.9 L756.0 1583.0 L762.0 1582.1 L768.0 1581.2 L774.0 1580.3 L780.0 1579.4 L786.0 1578.5 L792.0 1577.6 L798.0 1576.7 L804.0 1575.8 L810.0 1574.8 L816.0 1573.8 L822.0 1572.8 L828.0 1571.7 L834.0 1570.6 L840.0 1569.5 L846.0 1568.2 L852.0 1566.9 L858.0 1565.5 L864.0 1564.1 L870.0 1562.5 L876.0 1560.8 L882.0 1559.0 L888.0 1557.1 L894.0 1555.0 L900.0 1552.8 L906.0 1550.3 L912.0 1547.7 L918.0 1544.8 L924.0 1541.7 L930.0 1538.3 L936.0 1534.7 L942.0 1530.9 L948.0 1526.8 L954.0 1522.5 L960.0 1518.0 L966.0 1513.4 L972.0 1508.6 L978.0 1503.7 L984.0 1498.7 L990.0 1493.6 L996.0 1488.5 L1002.0 1483.3 L1008.0 1478.1 L1014.0 1472.9 L1020.0 1467.7 L1026.0 1462.5 L1032.0 1457.3 L1038.0 1452.0 L1044.0 1446.8 L1050.0 1441.5 L1056.0 1436.3 L1062.0 1431.0 L1068.0 1425.8 L1074.0 1420.6 L1080.0 1415.4 L1086.0 1410.2 L1092.0 1405.2 L1098.0 1400.3 L1104.0 1395.6 L1110.0 1391.2 L1116.0 1387.0 L1122.0 1383.1 L1128.0 1379.5 L1134.0 1376.3 L1140.0 1373.6 L1146.0 1371.2 L1152.0 1369.3 L1158.0 1367.9 L1164.0 1366.7 L1170.0 1366.0 L1176.0 1365.5 L1182.0 1365.4 L1188.0 1365.5 L1194.0 1365.8 L1200.0 1366.4 L1206.0 1367.1 L1212.0 1368.0 L1218.0 1369.0 L1224.0 1370.1 L1230.0 1371.3 L1236.0 1372.6 L1242.0 1374.0 L1248.0 1375.5 L1254.0 1377.0 L1260.0 1378.7 L1266.0 1380.3 L1272.0 1382.0 L1278.0 1383.8 L1284.0 1385.6 L1290.0 1387.4 L1296.0 1389.2 L1302.0 1391.0 L1308.0 1392.8 L1314.0 1394.5 L1320.0 1396.0 L1326.0 1397.5 L1332.0 1398.8 L1338.0 1400.0 L1344.0 1401.0 L1350.0 1401.7 L1356.0 1402.2 L1362.0 1402.5 L1368.0 1402.5 L1374.0 1402.2 L1380.0 1401.7 L1386.0 1400.9 L1392.0 1399.8 L1398.0 1398.5 L1404.0 1396.9 L1410.0 1395.0 L1416.0 1392.8 L1422.0 1390.4 L1428.0 1387.6 L1434.0 1384.6 L1440.0 1381.3 L1446.0 1377.9 L1452.0 1374.4 L1458.0 1370.9 L1464.0 1367.4 L1470.0 1363.9 L1476.0 1360.3 L1482.0 1356.6 L1488.0 1352.8 L1494.0 1348.8 L1500.0 1344.8 L1506.0 1340.8 L1512.0 1336.8 L1518.0 1332.9 L1524.0 1329.0 L1530.0 1325.1 L1536.0 1321.3 L1542.0 1317.5 L1548.0 1313.8 L1554.0 1310.1 L1560.0 1306.5 L1566.0 1302.9 L1572.0 1299.4 L1578.0 1295.9 L1584.0 1292.5 L1590.0 1289.2 L1596.0 1285.9 L1602.0 1282.7 L1608.0 1279.6 L1614.0 1276.5 L1620.0 1273.5 L1626.0 1270.6 L1632.0 1267.7 L1638.0 1265.0 L1644.0 1262.3 L1650.0 1259.6 L1656.0 1257.0 L1662.0 1254.5 L1668.0 1251.9 L1674.0 1249.4 L1680.0 1246.9 L1686.0 1244.3 L1692.0 1241.7 L1698.0 1239.1 L1704.0 1236.4 L1710.0 1233.6 L1716.0 1230.8 L1722.0 1227.9 L1728.0 1225.0 L1734.0 1221.9 L1740.0 1218.9 L1746.0 1215.7 L1752.0 1212.5 L1758.0 1209.1 L1764.0 1205.8 L1770.0 1202.3 L1776.0 1198.8 L1782.0 1195.2 L1788.0 1191.5 L1794.0 1187.8 L1800.0 1184.0 L1806.0 1180.2 L1812.0 1176.3 L1818.0 1172.5 L1824.0 1168.6 L1830.0 1164.7 L1836.0 1160.8 L1842.0 1156.9 L1848.0 1153.0 L1854.0 1149.1 L1860.0 1145.3 L1866.0 1141.5 L1872.0 1137.7 L1878.0 1133.9 L1884.0 1130.2 L1890.0 1126.6 L1896.0 1122.9 L1902.0 1119.4 L1908.0 1115.9 L1914.0 1112.4 L1920.0 1109.1 L1926.0 1105.7 L1932.0 1102.5 L1938.0 1099.3 L1944.0 1096.2 L1950.0 1093.1 L1956.0 1090.1 L1962.0 1087.1 L1968.0 1084.1 L1974.0 1081.3 L1980.0 1078.4 L1986.0 1075.6 L1992.0 1072.8 L1998.0 1070.1 L2004.0 1067.4 L2010.0 1064.8 L2016.0 1062.1 L2022.0 1059.6 L2028.0 1057.0 L2034.0 1054.4 L2040.0 1051.9 L2046.0 1049.4 L2052.0 1046.9 L2058.0 1044.5 L2064.0 1042.0 L2070.0 1039.6 L2076.0 1037.2 L2082.0 1034.9 L2088.0 1032.6 L2094.0 1030.4 L2100.0 1028.2 L2106.0 1026.0 L2112.0 1024.0 L2118.0 1022.0 L2124.0 1020.1 L2130.0 1018.3 L2136.0 1016.6 L2142.0 1014.9 L2148.0 1013.4 L2154.0 1011.9 L2160.0 1010.6 L2166.0 1009.3 L2172.0 1008.2 L2178.0 1007.1 L2184.0 1006.2 L2190.0 1005.4 L2196.0 1004.7 L2202.0 1004.1 L2208.0 1003.6 L2214.0 1003.2 L2220.0 1002.9 L2226.0 1002.8 L2232.0 1002.7 L2238.0 1002.8 L2244.0 1002.9 L2250.0 1003.1 L2256.0 1003.5 L2262.0 1003.9 L2268.0 1004.4 L2274.0 1005.0 L2280.0 1005.6 L2286.0 1006.4 L2292.0 1007.1 L2298.0 1008.0 L2304.0 1008.8 L2310.0 1009.7 L2316.0 1010.6 L2322.0 1011.5 L2328.0 1012.4 L2334.0 1013.2 L2340.0 1014.1 L2346.0 1014.9 L2352.0 1015.7 L2358.0 1016.4 L2364.0 1017.1 L2370.0 1017.6 L2376.0 1018.1 L2382.0 1018.6 L2388.0 1018.9 L2394.0 1019.1 L2400.0 1019.2 L2406.0 1019.1 L2412.0 1018.9 L2418.0 1018.6 L2424.0 1018.1 L2430.0 1017.4 L2436.0 1016.6 L2442.0 1015.5 L2448.0 1014.3 L2454.0 1012.8 L2460.0 1011.1 L2466.0 1009.1 L2472.0 1006.9 L2478.0 1004.5 L2484.0 1001.8 L2490.0 998.8 L2496.0 995.6 L2502.0 992.3 L2508.0 988.7 L2514.0 985.0 L2520.0 981.2 L2526.0 977.2 L2532.0 973.1 L2538.0 968.9 L2544.0 964.7 L2550.0 960.4 L2556.0 956.0 L2562.0 951.6 L2568.0 947.3 L2574.0 943.0 L2580.0 938.7 L2586.0 934.5 L2592.0 930.4 L2598.0 926.4 L2604.0 922.6 L2610.0 918.9 L2616.0 915.4 L2622.0 912.2 L2628.0 909.1 L2634.0 906.3 L2640.0 903.7 L2646.0 901.3 L2652.0 899.2 L2658.0 897.4 L2664.0 895.8 L2670.0 894.5 L2676.0 893.5 L2682.0 892.8 L2688.0 892.4 L2694.0 892.3 L2700.0 892.5 L2706.0 893.0 L2712.0 893.8 L2718.0 894.9 L2724.0 896.2 L2730.0 897.8 L2736.0 899.7 L2742.0 901.8 L2748.0 904.2 L2754.0 906.8 L2760.0 909.6 L2766.0 912.6 L2772.0 915.8 L2778.0 919.2 L2784.0 922.7 L2790.0 926.2 L2796.0 929.9 L2802.0 933.6 L2808.0 937.4 L2814.0 941.2 L2820.0 944.9 L2826.0 948.6 L2832.0 952.3 L2838.0 955.9 L2844.0 959.4 L2850.0 962.9 L2856.0 966.4 L2862.0 969.8 L2868.0 973.2 L2874.0 976.6 L2880.0 979.9 L2886.0 983.2 L2892.0 986.5 L2898.0 989.7 L2904.0 992.9 L2910.0 996.1 L2916.0 999.2 L2922.0 1002.3 L2928.0 1005.4 L2934.0 1008.4 L2940.0 1011.3 L2946.0 1014.2 L2952.0 1017.1 L2958.0 1019.8 L2964.0 1022.6 L2970.0 1025.2 L2976.0 1027.8 L2982.0 1030.4 L2988.0 1033.0 L2994.0 1035.6 L3000.0 1038.3 L3006.0 1041.0 L3012.0 1043.7 L3018.0 1046.6 L3024.0 1049.5 L3030.0 1052.6 L3036.0 1055.9 L3042.0 1059.2 L3048.0 1062.7 L3054.0 1066.3 L3060.0 1070.0 L3066.0 1073.7 L3072.0 1077.4 L3078.0 1081.2 L3084.0 1084.9 L3090.0 1088.6 L3096.0 1092.3 L3102.0 1095.8 L3108.0 1099.3 L3114.0 1102.7 L3120.0 1106.0 L3126.0 1109.3 L3132.0 1112.6 L3138.0 1115.8 L3144.0 1119.1 L3150.0 1122.4 L3156.0 1125.8 L3162.0 1129.2 L3168.0 1132.7 L3174.0 1136.3 L3180.0 1140.0 L3186.0 1143.9 L3192.0 1147.8 L3198.0 1151.8 L3204.0 1155.8 L3210.0 1159.8 L3216.0 1163.9 L3222.0 1168.0 L3228.0 1172.0 L3234.0 1176.1 L3240.0 1180.1 L3246.0 1184.0 L3252.0 1187.8 L3258.0 1191.7 L3264.0 1195.6 L3270.0 1199.6 L3276.0 1203.7 L3282.0 1207.9 L3288.0 1212.3 L3294.0 1217.0 L3300.0 1221.9 L3306.0 1227.1 L3312.0 1232.7 L3318.0 1238.7 L3324.0 1245.0 L3330.0 1251.5 L3336.0 1258.3 L3342.0 1265.3 L3348.0 1272.4 L3354.0 1279.6 L3360.0 1286.8 L3366.0 1294.0 L3372.0 1301.1 L3378.0 1308.1 L3384.0 1314.9 L3390.0 1321.5 L3396.0 1327.9 L3402.0 1334.1 L3408.0 1340.0 L3414.0 1345.7 L3420.0 1350.9 L3426.0 1355.8 L3432.0 1360.4 L3438.0 1364.8 L3444.0 1369.0 L3450.0 1373.2 L3456.0 1377.2 L3462.0 1381.2 L3468.0 1385.0 L3474.0 1388.5 L3480.0 1391.9 L3486.0 1395.0 L3492.0 1397.8 L3498.0 1400.5 L3504.0 1402.9 L3510.0 1405.2 L3516.0 1407.2 L3522.0 1409.0 L3528.0 1410.6 L3534.0 1412.1 L3540.0 1413.3 L3546.0 1414.4 L3552.0 1415.4 L3558.0 1416.3 L3564.0 1417.1 L3570.0 1417.9 L3576.0 1418.6 L3582.0 1419.3 L3588.0 1420.1 L3594.0 1420.8 L3600.0 1421.6 L3606.0 1422.5 L3612.0 1423.4 L3618.0 1424.5 L3624.0 1425.6 L3630.0 1426.7 L3636.0 1428.1 L3642.0 1429.5 L3648.0 1431.0 L3654.0 1432.7 L3660.0 1434.5 L3666.0 1436.5 L3672.0 1438.6 L3678.0 1440.9 L3684.0 1443.3 L3690.0 1445.8 L3696.0 1448.4 L3702.0 1451.1 L3708.0 1453.8 L3714.0 1456.6 L3720.0 1459.4 L3726.0 1462.3 L3732.0 1465.1 L3738.0 1468.0 L3744.0 1470.8 L3750.0 1473.6 L3756.0 1476.4 L3762.0 1479.2 L3768.0 1482.0 L3774.0 1484.7 L3780.0 1487.4 L3786.0 1490.1 L3792.0 1492.7 L3798.0 1495.3 L3804.0 1497.8 L3810.0 1500.3 L3816.0 1502.8 L3822.0 1505.2 L3828.0 1507.5 L3834.0 1509.8 L3840.0 1512.1 L3846.0 1514.3 L3852.0 1516.4 L3858.0 1518.5 L3864.0 1520.5 L3870.0 1522.4 L3876.0 1524.3 L3882.0 1526.1 L3888.0 1527.8 L3894.0 1529.5 L3900.0 1531.1 L3906.0 1532.7 L3912.0 1534.2 L3918.0 1535.7 L3924.0 1537.2 L3930.0 1538.6 L3936.0 1540.0 L3942.0 1541.4 L3948.0 1542.8 L3954.0 1544.1 L3960.0 1545.5 L3966.0 1546.8 L3972.0 1548.1 L3978.0 1549.4 L3984.0 1550.8 L3990.0 1552.1 L3996.0 1553.4 L4002.0 1554.7 L4008.0 1556.0 L4014.0 1557.4 L4020.0 1558.7 L4026.0 1560.1 L4032.0 1561.5 L4038.0 1562.9 L4044.0 1564.4 L4050.0 1565.8 L4056.0 1567.3 L4062.0 1568.9 L4068.0 1570.4 L4074.0 1572.0 L4080.0 1573.7 L4086.0 1575.4 L4092.0 1577.1 L4092.5 1577.2" fill="none" stroke="#f0f0f0" stroke-width="4.2" stroke-linejoin="round"/>
<path d="M372.0 1612.9 H4092.5" stroke="#990066" stroke-width="1.1" fill="none"/>
<path d="M372.0 1860.2 L378.0 1860.2 L384.0 1860.2 L390.0 1860.2 L396.0 1860.3 L402.0 1860.3 L408.0 1860.3 L414.0 1860.3 L420.0 1860.3 L426.0 1860.4 L432.0 1860.3 L438.0 1860.3 L444.0 1860.2 L450.0 1860.1 L456.0 1860.0 L462.0 1859.9 L468.0 1859.7 L474.0 1859.4 L480.0 1859.2 L486.0 1858.8 L492.0 1858.4 L498.0 1858.0 L504.0 1857.5 L510.0 1857.0 L516.0 1856.4 L522.0 1855.7 L528.0 1855.0 L534.0 1854.2 L540.0 1853.3 L546.0 1852.3 L552.0 1851.3 L558.0 1850.3 L564.0 1849.1 L570.0 1847.9 L576.0 1846.6 L582.0 1845.2 L588.0 1843.8 L594.0 1842.2 L600.0 1840.7 L606.0 1839.0 L612.0 1837.3 L618.0 1835.5 L624.0 1833.7 L630.0 1831.8 L636.0 1829.9 L642.0 1827.9 L648.0 1825.9 L654.0 1823.9 L660.0 1821.8 L666.0 1819.7 L672.0 1817.6 L678.0 1815.4 L684.0 1813.3 L690.0 1811.2 L696.0 1809.2 L702.0 1807.1 L708.0 1805.1 L714.0 1803.2 L720.0 1801.3 L726.0 1799.4 L732.0 1797.7 L738.0 1796.0 L744.0 1794.4 L750.0 1792.9 L756.0 1791.5 L762.0 1790.2 L768.0 1789.0 L774.0 1787.8 L780.0 1786.8 L786.0 1785.9 L792.0 1785.1 L798.0 1784.3 L804.0 1783.7 L810.0 1783.2 L816.0 1782.8 L822.0 1782.4 L828.0 1782.0 L834.0 1781.7 L840.0 1781.4 L846.0 1781.0 L852.0 1780.7 L858.0 1780.3 L864.0 1779.9 L870.0 1779.4 L876.0 1778.8 L882.0 1778.2 L888.0 1777.4 L894.0 1776.5 L900.0 1775.4 L906.0 1774.2 L912.0 1772.8 L918.0 1771.2 L924.0 1769.3 L930.0 1767.2 L936.0 1764.9 L942.0 1762.3 L948.0 1759.4 L954.0 1756.4 L960.0 1753.1 L966.0 1749.6 L972.0 1745.9 L978.0 1742.0 L984.0 1738.0 L990.0 1733.8 L996.0 1729.4 L1002.0 1724.9 L1008.0 1720.3 L1014.0 1715.5 L1020.0 1710.7 L1026.0 1705.8 L1032.0 1700.9 L1038.0 1695.9 L1044.0 1691.0 L1050.0 1686.1 L1056.0 1681.2 L1062.0 1676.4 L1068.0 1671.7 L1074.0 1667.1 L1080.0 1662.6 L1086.0 1658.2 L1092.0 1654.0 L1098.0 1649.9 L1104.0 1646.0 L1110.0 1642.2 L1116.0 1638.5 L1122.0 1635.0 L1128.0 1631.7 L1134.0 1628.5 L1140.0 1625.5 L1146.0 1622.7 L1152.0 1620.2 L1158.0 1618.0 L1164.0 1616.1 L1170.0 1614.3 L1176.0 1612.8 L1182.0 1611.3 L1188.0 1609.9 L1194.0 1608.6 L1200.0 1607.3 L1206.0 1606.1 L1212.0 1605.2 L1218.0 1604.3 L1224.0 1603.6 L1230.0 1603.1 L1236.0 1602.6 L1242.0 1602.1 L1248.0 1601.8 L1254.0 1601.4 L1260.0 1601.0 L1266.0 1600.6 L1272.0 1600.2 L1278.0 1599.7 L1284.0 1599.0 L1290.0 1598.3 L1296.0 1597.5 L1302.0 1596.5 L1308.0 1595.5 L1314.0 1594.4 L1320.0 1593.2 L1326.0 1591.9 L1332.0 1590.5 L1338.0 1589.1 L1344.0 1587.6 L1350.0 1586.0 L1356.0 1584.4 L1362.0 1582.8 L1368.0 1581.1 L1374.0 1579.4 L1380.0 1577.6 L1386.0 1575.9 L1392.0 1574.1 L1398.0 1572.4 L1404.0 1570.6 L1410.0 1568.9 L1416.0 1567.2 L1422.0 1565.6 L1428.0 1563.9 L1434.0 1562.4 L1440.0 1560.8 L1446.0 1559.3 L1452.0 1557.8 L1458.0 1556.3 L1464.0 1554.9 L1470.0 1553.4 L1476.0 1552.0 L1482.0 1550.5 L1488.0 1549.1 L1494.0 1547.6 L1500.0 1546.1 L1506.0 1544.6 L1512.0 1543.1 L1518.0 1541.6 L1524.0 1540.0 L1530.0 1538.5 L1536.0 1536.9 L1542.0 1535.3 L1548.0 1533.7 L1554.0 1532.1 L1560.0 1530.6 L1566.0 1528.9 L1572.0 1527.3 L1578.0 1525.7 L1584.0 1524.0 L1590.0 1522.2 L1596.0 1520.4 L1602.0 1518.5 L1608.0 1516.5 L1614.0 1514.4 L1620.0 1512.1 L1626.0 1509.7 L1632.0 1507.1 L1638.0 1504.4 L1644.0 1501.5 L1650.0 1498.5 L1656.0 1495.3 L1662.0 1492.0 L1668.0 1488.5 L1674.0 1484.9 L1680.0 1481.2 L1686.0 1477.4 L1692.0 1473.5 L1698.0 1469.5 L1704.0 1465.4 L1710.0 1461.2 L1716.0 1457.0 L1722.0 1452.7 L1728.0 1448.4 L1734.0 1444.1 L1740.0 1439.8 L1746.0 1435.4 L1752.0 1431.1 L1758.0 1426.9 L1764.0 1422.6 L1770.0 1418.4 L1776.0 1414.3 L1782.0 1410.3 L1788.0 1406.4 L1794.0 1402.6 L1800.0 1399.1 L1806.0 1395.7 L1812.0 1392.5 L1818.0 1389.6 L1824.0 1386.9 L1830.0 1384.6 L1836.0 1382.5 L1842.0 1380.8 L1848.0 1379.5 L1854.0 1378.6 L1860.0 1378.0 L1866.0 1377.7 L1872.0 1377.7 L1878.0 1377.9 L1884.0 1378.4 L1890.0 1379.2 L1896.0 1380.1 L1902.0 1381.3 L1908.0 1382.6 L1914.0 1384.1 L1920.0 1385.7 L1926.0 1387.3 L1932.0 1389.1 L1938.0 1390.8 L1944.0 1392.6 L1950.0 1394.3 L1956.0 1396.0 L1962.0 1397.5 L1968.0 1398.9 L1974.0 1400.2 L1980.0 1401.2 L1986.0 1402.0 L1992.0 1402.6 L1998.0 1402.9 L2004.0 1402.9 L2010.0 1402.7 L2016.0 1402.2 L2022.0 1401.4 L2028.0 1400.3 L2034.0 1398.8 L2040.0 1397.1 L2046.0 1395.0 L2052.0 1392.6 L2058.0 1389.9 L2064.0 1386.9 L2070.0 1383.6 L2076.0 1380.0 L2082.0 1376.3 L2088.0 1372.5 L2094.0 1368.5 L2100.0 1364.5 L2106.0 1360.4 L2112.0 1356.4 L2118.0 1352.4 L2124.0 1348.5 L2130.0 1344.7 L2136.0 1341.1 L2142.0 1337.6 L2148.0 1334.2 L2154.0 1331.1 L2160.0 1328.1 L2166.0 1325.3 L2172.0 1322.7 L2178.0 1320.3 L2184.0 1318.2 L2190.0 1316.2 L2196.0 1314.6 L2202.0 1313.2 L2208.0 1312.0 L2214.0 1311.0 L2220.0 1310.2 L2226.0 1309.6 L2232.0 1309.2 L2238.0 1309.0 L2244.0 1308.9 L2250.0 1309.0 L2256.0 1309.1 L2262.0 1309.4 L2268.0 1309.8 L2274.0 1310.3 L2280.0 1310.8 L2286.0 1311.4 L2292.0 1312.0 L2298.0 1312.6 L2304.0 1313.2 L2310.0 1313.7 L2316.0 1314.2 L2322.0 1314.6 L2328.0 1314.9 L2334.0 1315.1 L2340.0 1315.2 L2346.0 1315.1 L2352.0 1314.9 L2358.0 1314.6 L2364.0 1314.2 L2370.0 1313.6 L2376.0 1312.9 L2382.0 1312.1 L2388.0 1311.2 L2394.0 1310.2 L2400.0 1309.0 L2406.0 1307.7 L2412.0 1306.4 L2418.0 1304.9 L2424.0 1303.3 L2430.0 1301.6 L2436.0 1299.7 L2442.0 1297.8 L2448.0 1295.8 L2454.0 1293.6 L2460.0 1291.4 L2466.0 1289.0 L2472.0 1286.5 L2478.0 1283.9 L2484.0 1281.3 L2490.0 1278.5 L2496.0 1275.7 L2502.0 1272.8 L2508.0 1269.8 L2514.0 1266.9 L2520.0 1263.9 L2526.0 1260.9 L2532.0 1257.9 L2538.0 1254.9 L2544.0 1252.0 L2550.0 1249.1 L2556.0 1246.3 L2562.0 1243.5 L2568.0 1240.8 L2574.0 1238.2 L2580.0 1235.7 L2586.0 1233.4 L2592.0 1231.2 L2598.0 1229.1 L2604.0 1227.2 L2610.0 1225.5 L2616.0 1224.0 L2622.0 1222.7 L2628.0 1221.6 L2634.0 1220.7 L2640.0 1220.0 L2646.0 1219.5 L2652.0 1219.2 L2658.0 1219.2 L2664.0 1219.3 L2670.0 1219.6 L2676.0 1220.1 L2682.0 1220.9 L2688.0 1221.8 L2694.0 1222.9 L2700.0 1224.3 L2706.0 1225.7 L2712.0 1227.4 L2718.0 1229.2 L2724.0 1231.1 L2730.0 1233.1 L2736.0 1235.2 L2742.0 1237.5 L2748.0 1239.8 L2754.0 1242.1 L2760.0 1244.5 L2766.0 1247.0 L2772.0 1249.5 L2778.0 1252.0 L2784.0 1254.6 L2790.0 1257.2 L2796.0 1259.9 L2802.0 1262.5 L2808.0 1265.2 L2814.0 1267.9 L2820.0 1270.5 L2826.0 1273.2 L2832.0 1275.9 L2838.0 1278.6 L2844.0 1281.2 L2850.0 1283.8 L2856.0 1286.3 L2862.0 1288.8 L2868.0 1291.3 L2874.0 1293.6 L2880.0 1295.9 L2886.0 1298.1 L2892.0 1300.2 L2898.0 1302.2 L2904.0 1304.1 L2910.0 1305.9 L2916.0 1307.7 L2922.0 1309.3 L2928.0 1310.9 L2934.0 1312.3 L2940.0 1313.8 L2946.0 1315.1 L2952.0 1316.4 L2958.0 1317.7 L2964.0 1318.9 L2970.0 1320.0 L2976.0 1321.2 L2982.0 1322.3 L2988.0 1323.3 L2994.0 1324.4 L3000.0 1325.4 L3006.0 1326.4 L3012.0 1327.4 L3018.0 1328.3 L3024.0 1329.3 L3030.0 1330.2 L3036.0 1331.2 L3042.0 1332.1 L3048.0 1333.1 L3054.0 1334.0 L3060.0 1334.9 L3066.0 1335.8 L3072.0 1336.7 L3078.0 1337.6 L3084.0 1338.5 L3090.0 1339.3 L3096.0 1340.2 L3102.0 1341.0 L3108.0 1341.8 L3114.0 1342.6 L3120.0 1343.3 L3126.0 1344.0 L3132.0 1344.7 L3138.0 1345.2 L3144.0 1345.7 L3150.0 1346.1 L3156.0 1346.5 L3162.0 1346.7 L3168.0 1346.8 L3174.0 1346.8 L3180.0 1346.6 L3186.0 1346.4 L3192.0 1346.2 L3198.0 1345.9 L3204.0 1345.7 L3210.0 1345.6 L3216.0 1345.5 L3222.0 1345.6 L3228.0 1345.8 L3234.0 1346.3 L3240.0 1347.0 L3246.0 1348.0 L3252.0 1349.3 L3258.0 1350.9 L3264.0 1352.7 L3270.0 1354.9 L3276.0 1357.4 L3282.0 1360.2 L3288.0 1363.4 L3294.0 1366.8 L3300.0 1370.6 L3306.0 1374.7 L3312.0 1379.1 L3318.0 1383.9 L3324.0 1388.9 L3330.0 1394.3 L3336.0 1399.9 L3342.0 1405.8 L3348.0 1411.9 L3354.0 1418.2 L3360.0 1424.7 L3366.0 1431.4 L3372.0 1438.2 L3378.0 1445.2 L3384.0 1452.2 L3390.0 1459.4 L3396.0 1466.6 L3402.0 1473.8 L3408.0 1481.0 L3414.0 1488.2 L3420.0 1495.3 L3426.0 1502.3 L3432.0 1509.1 L3438.0 1515.7 L3444.0 1522.2 L3450.0 1528.3 L3456.0 1534.2 L3462.0 1539.8 L3468.0 1545.2 L3474.0 1550.3 L3480.0 1555.1 L3486.0 1559.7 L3492.0 1564.2 L3498.0 1568.4 L3504.0 1572.5 L3510.0 1576.4 L3516.0 1580.1 L3522.0 1583.7 L3528.0 1587.2 L3534.0 1590.6 L3540.0 1594.0 L3546.0 1597.2 L3552.0 1600.5 L3558.0 1603.6 L3564.0 1606.6 L3570.0 1609.5 L3576.0 1612.3 L3582.0 1615.1 L3588.0 1618.0 L3594.0 1621.0 L3600.0 1624.2 L3606.0 1627.6 L3612.0 1631.2 L3618.0 1634.8 L3624.0 1638.6 L3630.0 1642.4 L3636.0 1646.2 L3642.0 1650.2 L3648.0 1654.2 L3654.0 1658.2 L3660.0 1662.4 L3666.0 1666.5 L3672.0 1670.8 L3678.0 1675.1 L3684.0 1679.5 L3690.0 1683.9 L3696.0 1688.3 L3702.0 1692.8 L3708.0 1697.4 L3714.0 1702.0 L3720.0 1706.6 L3726.0 1711.2 L3732.0 1715.9 L3738.0 1720.6 L3744.0 1725.3 L3750.0 1730.0 L3756.0 1734.7 L3762.0 1739.3 L3768.0 1743.8 L3774.0 1748.2 L3780.0 1752.4 L3786.0 1756.5 L3792.0 1760.4 L3798.0 1764.0 L3804.0 1767.4 L3810.0 1770.6 L3816.0 1773.5 L3822.0 1776.2 L3828.0 1778.7 L3834.0 1781.0 L3840.0 1783.1 L3846.0 1785.1 L3852.0 1786.9 L3858.0 1788.7 L3864.0 1790.3 L3870.0 1791.8 L3876.0 1793.3 L3882.0 1794.8 L3888.0 1796.2 L3894.0 1797.5 L3900.0 1798.8 L3906.0 1800.2 L3912.0 1801.4 L3918.0 1802.7 L3924.0 1804.0 L3930.0 1805.3 L3936.0 1806.6 L3942.0 1807.9 L3948.0 1809.2 L3954.0 1810.6 L3960.0 1812.0 L3966.0 1813.4 L3972.0 1814.8 L3978.0 1816.3 L3984.0 1817.7 L3990.0 1819.2 L3996.0 1820.7 L4002.0 1822.1 L4008.0 1823.6 L4014.0 1825.1 L4020.0 1826.6 L4026.0 1828.2 L4032.0 1829.7 L4038.0 1831.2 L4044.0 1832.7 L4050.0 1834.2 L4056.0 1835.7 L4062.0 1837.1 L4068.0 1838.6 L4074.0 1840.1 L4080.0 1841.5 L4086.0 1843.0 L4092.0 1844.4 L4092.5 1844.5 L4092.5 1862.6 L372.0 1862.6 Z" fill="#cc0033"/>
<path d="M372.0 1860.2 L378.0 1860.2 L384.0 1860.2 L390.0 1860.2 L396.0 1860.3 L402.0 1860.3 L408.0 1860.3 L414.0 1860.3 L420.0 1860.3 L426.0 1860.4 L432.0 1860.3 L438.0 1860.3 L444.0 1860.2 L450.0 1860.1 L456.0 1860.0 L462.0 1859.9 L468.0 1859.7 L474.0 1859.4 L480.0 1859.2 L486.0 1858.8 L492.0 1858.4 L498.0 1858.0 L504.0 1857.5 L510.0 1857.0 L516.0 1856.4 L522.0 1855.7 L528.0 1855.0 L534.0 1854.2 L540.0 1853.3 L546.0 1852.3 L552.0 1851.3 L558.0 1850.3 L564.0 1849.1 L570.0 1847.9 L576.0 1846.6 L582.0 1845.2 L588.0 1843.8 L594.0 1842.2 L600.0 1840.7 L606.0 1839.0 L612.0 1837.3 L618.0 1835.5 L624.0 1833.7 L630.0 1831.8 L636.0 1829.9 L642.0 1827.9 L648.0 1825.9 L654.0 1823.9 L660.0 1821.8 L666.0 1819.7 L672.0 1817.6 L678.0 1815.4 L684.0 1813.3 L690.0 1811.2 L696.0 1809.2 L702.0 1807.1 L708.0 1805.1 L714.0 1803.2 L720.0 1801.3 L726.0 1799.4 L732.0 1797.7 L738.0 1796.0 L744.0 1794.4 L750.0 1792.9 L756.0 1791.5 L762.0 1790.2 L768.0 1789.0 L774.0 1787.8 L780.0 1786.8 L786.0 1785.9 L792.0 1785.1 L798.0 1784.3 L804.0 1783.7 L810.0 1783.2 L816.0 1782.8 L822.0 1782.4 L828.0 1782.0 L834.0 1781.7 L840.0 1781.4 L846.0 1781.0 L852.0 1780.7 L858.0 1780.3 L864.0 1779.9 L870.0 1779.4 L876.0 1778.8 L882.0 1778.2 L888.0 1777.4 L894.0 1776.5 L900.0 1775.4 L906.0 1774.2 L912.0 1772.8 L918.0 1771.2 L924.0 1769.3 L930.0 1767.2 L936.0 1764.9 L942.0 1762.3 L948.0 1759.4 L954.0 1756.4 L960.0 1753.1 L966.0 1749.6 L972.0 1745.9 L978.0 1742.0 L984.0 1738.0 L990.0 1733.8 L996.0 1729.4 L1002.0 1724.9 L1008.0 1720.3 L1014.0 1715.5 L1020.0 1710.7 L1026.0 1705.8 L1032.0 1700.9 L1038.0 1695.9 L1044.0 1691.0 L1050.0 1686.1 L1056.0 1681.2 L1062.0 1676.4 L1068.0 1671.7 L1074.0 1667.1 L1080.0 1662.6 L1086.0 1658.2 L1092.0 1654.0 L1098.0 1649.9 L1104.0 1646.0 L1110.0 1642.2 L1116.0 1638.5 L1122.0 1635.0 L1128.0 1631.7 L1134.0 1628.5 L1140.0 1625.5 L1146.0 1622.7 L1152.0 1620.2 L1158.0 1618.0 L1164.0 1616.1 L1170.0 1614.3 L1176.0 1612.8 L1182.0 1611.3 L1188.0 1609.9 L1194.0 1608.6 L1200.0 1607.3 L1206.0 1606.1 L1212.0 1605.2 L1218.0 1604.3 L1224.0 1603.6 L1230.0 1603.1 L1236.0 1602.6 L1242.0 1602.1 L1248.0 1601.8 L1254.0 1601.4 L1260.0 1601.0 L1266.0 1600.6 L1272.0 1600.2 L1278.0 1599.7 L1284.0 1599.0 L1290.0 1598.3 L1296.0 1597.5 L1302.0 1596.5 L1308.0 1595.5 L1314.0 1594.4 L1320.0 1593.2 L1326.0 1591.9 L1332.0 1590.5 L1338.0 1589.1 L1344.0 1587.6 L1350.0 1586.0 L1356.0 1584.4 L1362.0 1582.8 L1368.0 1581.1 L1374.0 1579.4 L1380.0 1577.6 L1386.0 1575.9 L1392.0 1574.1 L1398.0 1572.4 L1404.0 1570.6 L1410.0 1568.9 L1416.0 1567.2 L1422.0 1565.6 L1428.0 1563.9 L1434.0 1562.4 L1440.0 1560.8 L1446.0 1559.3 L1452.0 1557.8 L1458.0 1556.3 L1464.0 1554.9 L1470.0 1553.4 L1476.0 1552.0 L1482.0 1550.5 L1488.0 1549.1 L1494.0 1547.6 L1500.0 1546.1 L1506.0 1544.6 L1512.0 1543.1 L1518.0 1541.6 L1524.0 1540.0 L1530.0 1538.5 L1536.0 1536.9 L1542.0 1535.3 L1548.0 1533.7 L1554.0 1532.1 L1560.0 1530.6 L1566.0 1528.9 L1572.0 1527.3 L1578.0 1525.7 L1584.0 1524.0 L1590.0 1522.2 L1596.0 1520.4 L1602.0 1518.5 L1608.0 1516.5 L1614.0 1514.4 L1620.0 1512.1 L1626.0 1509.7 L1632.0 1507.1 L1638.0 1504.4 L1644.0 1501.5 L1650.0 1498.5 L1656.0 1495.3 L1662.0 1492.0 L1668.0 1488.5 L1674.0 1484.9 L1680.0 1481.2 L1686.0 1477.4 L1692.0 1473.5 L1698.0 1469.5 L1704.0 1465.4 L1710.0 1461.2 L1716.0 1457.0 L1722.0 1452.7 L1728.0 1448.4 L1734.0 1444.1 L1740.0 1439.8 L1746.0 1435.4 L1752.0 1431.1 L1758.0 1426.9 L1764.0 1422.6 L1770.0 1418.4 L1776.0 1414.3 L1782.0 1410.3 L1788.0 1406.4 L1794.0 1402.6 L1800.0 1399.1 L1806.0 1395.7 L1812.0 1392.5 L1818.0 1389.6 L1824.0 1386.9 L1830.0 1384.6 L1836.0 1382.5 L1842.0 1380.8 L1848.0 1379.5 L1854.0 1378.6 L1860.0 1378.0 L1866.0 1377.7 L1872.0 1377.7 L1878.0 1377.9 L1884.0 1378.4 L1890.0 1379.2 L1896.0 1380.1 L1902.0 1381.3 L1908.0 1382.6 L1914.0 1384.1 L1920.0 1385.7 L1926.0 1387.3 L1932.0 1389.1 L1938.0 1390.8 L1944.0 1392.6 L1950.0 1394.3 L1956.0 1396.0 L1962.0 1397.5 L1968.0 1398.9 L1974.0 1400.2 L1980.0 1401.2 L1986.0 1402.0 L1992.0 1402.6 L1998.0 1402.9 L2004.0 1402.9 L2010.0 1402.7 L2016.0 1402.2 L2022.0 1401.4 L2028.0 1400.3 L2034.0 1398.8 L2040.0 1397.1 L2046.0 1395.0 L2052.0 1392.6 L2058.0 1389.9 L2064.0 1386.9 L2070.0 1383.6 L2076.0 1380.0 L2082.0 1376.3 L2088.0 1372.5 L2094.0 1368.5 L2100.0 1364.5 L2106.0 1360.4 L2112.0 1356.4 L2118.0 1352.4 L2124.0 1348.5 L2130.0 1344.7 L2136.0 1341.1 L2142.0 1337.6 L2148.0 1334.2 L2154.0 1331.1 L2160.0 1328.1 L2166.0 1325.3 L2172.0 1322.7 L2178.0 1320.3 L2184.0 1318.2 L2190.0 1316.2 L2196.0 1314.6 L2202.0 1313.2 L2208.0 1312.0 L2214.0 1311.0 L2220.0 1310.2 L2226.0 1309.6 L2232.0 1309.2 L2238.0 1309.0 L2244.0 1308.9 L2250.0 1309.0 L2256.0 1309.1 L2262.0 1309.4 L2268.0 1309.8 L2274.0 1310.3 L2280.0 1310.8 L2286.0 1311.4 L2292.0 1312.0 L2298.0 1312.6 L2304.0 1313.2 L2310.0 1313.7 L2316.0 1314.2 L2322.0 1314.6 L2328.0 1314.9 L2334.0 1315.1 L2340.0 1315.2 L2346.0 1315.1 L2352.0 1314.9 L2358.0 1314.6 L2364.0 1314.2 L2370.0 1313.6 L2376.0 1312.9 L2382.0 1312.1 L2388.0 1311.2 L2394.0 1310.2 L2400.0 1309.0 L2406.0 1307.7 L2412.0 1306.4 L2418.0 1304.9 L2424.0 1303.3 L2430.0 1301.6 L2436.0 1299.7 L2442.0 1297.8 L2448.0 1295.8 L2454.0 1293.6 L2460.0 1291.4 L2466.0 1289.0 L2472.0 1286.5 L2478.0 1283.9 L2484.0 1281.3 L2490.0 1278.5 L2496.0 1275.7 L2502.0 1272.8 L2508.0 1269.8 L2514.0 1266.9 L2520.0 1263.9 L2526.0 1260.9 L2532.0 1257.9 L2538.0 1254.9 L2544.0 1252.0 L2550.0 1249.1 L2556.0 1246.3 L2562.0 1243.5 L2568.0 1240.8 L2574.0 1238.2 L2580.0 1235.7 L2586.0 1233.4 L2592.0 1231.2 L2598.0 1229.1 L2604.0 1227.2 L2610.0 1225.5 L2616.0 1224.0 L2622.0 1222.7 L2628.0 1221.6 L2634.0 1220.7 L2640.0 1220.0 L2646.0 1219.5 L2652.0 1219.2 L2658.0 1219.2 L2664.0 1219.3 L2670.0 1219.6 L2676.0 1220.1 L2682.0 1220.9 L2688.0 1221.8 L2694.0 1222.9 L2700.0 1224.3 L2706.0 1225.7 L2712.0 1227.4 L2718.0 1229.2 L2724.0 1231.1 L2730.0 1233.1 L2736.0 1235.2 L2742.0 1237.5 L2748.0 1239.8 L2754.0 1242.1 L2760.0 1244.5 L2766.0 1247.0 L2772.0 1249.5 L2778.0 1252.0 L2784.0 1254.6 L2790.0 1257.2 L2796.0 1259.9 L2802.0 1262.5 L2808.0 1265.2 L2814.0 1267.9 L2820.0 1270.5 L2826.0 1273.2 L2832.0 1275.9 L2838.0 1278.6 L2844.0 1281.2 L2850.0 1283.8 L2856.0 1286.3 L2862.0 1288.8 L2868.0 1291.3 L2874.0 1293.6 L2880.0 1295.9 L2886.0 1298.1 L2892.0 1300.2 L2898.0 1302.2 L2904.0 1304.1 L2910.0 1305.9 L2916.0 1307.7 L2922.0 1309.3 L2928.0 1310.9 L2934.0 1312.3 L2940.0 1313.8 L2946.0 1315.1 L2952.0 1316.4 L2958.0 1317.7 L2964.0 1318.9 L2970.0 1320.0 L2976.0 1321.2 L2982.0 1322.3 L2988.0 1323.3 L2994.0 1324.4 L3000.0 1325.4 L3006.0 1326.4 L3012.0 1327.4 L3018.0 1328.3 L3024.0 1329.3 L3030.0 1330.2 L3036.0 1331.2 L3042.0 1332.1 L3048.0 1333.1 L3054.0 1334.0 L3060.0 1334.9 L3066.0 1335.8 L3072.0 1336.7 L3078.0 1337.6 L3084.0 1338.5 L3090.0 1339.3 L3096.0 1340.2 L3102.0 1341.0 L3108.0 1341.8 L3114.0 1342.6 L3120.0 1343.3 L3126.0 1344.0 L3132.0 1344.7 L3138.0 1345.2 L3144.0 1345.7 L3150.0 1346.1 L3156.0 1346.5 L3162.0 1346.7 L3168.0 1346.8 L3174.0 1346.8 L3180.0 1346.6 L3186.0 1346.4 L3192.0 1346.2 L3198.0 1345.9 L3204.0 1345.7 L3210.0 1345.6 L3216.0 1345.5 L3222.0 1345.6 L3228.0 1345.8 L3234.0 1346.3 L3240.0 1347.0 L3246.0 1348.0 L3252.0 1349.3 L3258.0 1350.9 L3264.0 1352.7 L3270.0 1354.9 L3276.0 1357.4 L3282.0 1360.2 L3288.0 1363.4 L3294.0 1366.8 L3300.0 1370.6 L3306.0 1374.7 L3312.0 1379.1 L3318.0 1383.9 L3324.0 1388.9 L3330.0 1394.3 L3336.0 1399.9 L3342.0 1405.8 L3348.0 1411.9 L3354.0 1418.2 L3360.0 1424.7 L3366.0 1431.4 L3372.0 1438.2 L3378.0 1445.2 L3384.0 1452.2 L3390.0 1459.4 L3396.0 1466.6 L3402.0 1473.8 L3408.0 1481.0 L3414.0 1488.2 L3420.0 1495.3 L3426.0 1502.3 L3432.0 1509.1 L3438.0 1515.7 L3444.0 1522.2 L3450.0 1528.3 L3456.0 1534.2 L3462.0 1539.8 L3468.0 1545.2 L3474.0 1550.3 L3480.0 1555.1 L3486.0 1559.7 L3492.0 1564.2 L3498.0 1568.4 L3504.0 1572.5 L3510.0 1576.4 L3516.0 1580.1 L3522.0 1583.7 L3528.0 1587.2 L3534.0 1590.6 L3540.0 1594.0 L3546.0 1597.2 L3552.0 1600.5 L3558.0 1603.6 L3564.0 1606.6 L3570.0 1609.5 L3576.0 1612.3 L3582.0 1615.1 L3588.0 1618.0 L3594.0 1621.0 L3600.0 1624.2 L3606.0 1627.6 L3612.0 1631.2 L3618.0 1634.8 L3624.0 1638.6 L3630.0 1642.4 L3636.0 1646.2 L3642.0 1650.2 L3648.0 1654.2 L3654.0 1658.2 L3660.0 1662.4 L3666.0 1666.5 L3672.0 1670.8 L3678.0 1675.1 L3684.0 1679.5 L3690.0 1683.9 L3696.0 1688.3 L3702.0 1692.8 L3708.0 1697.4 L3714.0 1702.0 L3720.0 1706.6 L3726.0 1711.2 L3732.0 1715.9 L3738.0 1720.6 L3744.0 1725.3 L3750.0 1730.0 L3756.0 1734.7 L3762.0 1739.3 L3768.0 1743.8 L3774.0 1748.2 L3780.0 1752.4 L3786.0 1756.5 L3792.0 1760.4 L3798.0 1764.0 L3804.0 1767.4 L3810.0 1770.6 L3816.0 1773.5 L3822.0 1776.2 L3828.0 1778.7 L3834.0 1781.0 L3840.0 1783.1 L3846.0 1785.1 L3852.0 1786.9 L3858.0 1788.7 L3864.0 1790.3 L3870.0 1791.8 L3876.0 1793.3 L3882.0 1794.8 L3888.0 1796.2 L3894.0 1797.5 L3900.0 1798.8 L3906.0 1800.2 L3912.0 1801.4 L3918.0 1802.7 L3924.0 1804.0 L3930.0 1805.3 L3936.0 1806.6 L3942.0 1807.9 L3948.0 1809.2 L3954.0 1810.6 L3960.0 1812.0 L3966.0 1813.4 L3972.0 1814.8 L3978.0 1816.3 L3984.0 1817.7 L3990.0 1819.2 L3996.0 1820.7 L4002.0 1822.1 L4008.0 1823.6 L4014.0 1825.1 L4020.0 1826.6 L4026.0 1828.2 L4032.0 1829.7 L4038.0 1831.2 L4044.0 1832.7 L4050.0 1834.2 L4056.0 1835.7 L4062.0 1837.1 L4068.0 1838.6 L4074.0 1840.1 L4080.0 1841.5 L4086.0 1843.0 L4092.0 1844.4 L4092.5 1844.5" fill="none" stroke="#f0f0f0" stroke-width="4.2" stroke-linejoin="round"/>
<path d="M372.0 1862.3 H4092.5" stroke="#cc0033" stroke-width="1.1" fill="none"/>
<path d="M372.0 2112.1 L378.0 2111.9 L384.0 2111.8 L390.0 2111.6 L396.0 2111.4 L402.0 2111.3 L408.0 2111.1 L414.0 2110.9 L420.0 2110.7 L426.0 2110.5 L432.0 2110.3 L438.0 2110.1 L444.0 2110.0 L450.0 2109.8 L456.0 2109.7 L462.0 2109.6 L468.0 2109.5 L474.0 2109.3 L480.0 2109.1 L486.0 2108.8 L492.0 2108.5 L498.0 2108.2 L504.0 2107.8 L510.0 2107.3 L516.0 2106.7 L522.0 2106.1 L528.0 2105.4 L534.0 2104.7 L540.0 2103.8 L546.0 2102.9 L552.0 2101.8 L558.0 2100.7 L564.0 2099.4 L570.0 2098.1 L576.0 2096.6 L582.0 2095.0 L588.0 2093.3 L594.0 2091.4 L600.0 2089.4 L606.0 2087.4 L612.0 2085.1 L618.0 2082.8 L624.0 2080.4 L630.0 2077.8 L636.0 2075.1 L642.0 2072.4 L648.0 2069.5 L654.0 2066.5 L660.0 2063.4 L666.0 2060.3 L672.0 2057.1 L678.0 2053.8 L684.0 2050.5 L690.0 2047.1 L696.0 2043.8 L702.0 2040.5 L708.0 2037.2 L714.0 2033.9 L720.0 2030.7 L726.0 2027.5 L732.0 2024.5 L738.0 2021.5 L744.0 2018.6 L750.0 2015.8 L756.0 2013.1 L762.0 2010.5 L768.0 2008.0 L774.0 2005.7 L780.0 2003.5 L786.0 2001.4 L792.0 1999.5 L798.0 1997.8 L804.0 1996.2 L810.0 1994.7 L816.0 1993.4 L822.0 1992.2 L828.0 1991.1 L834.0 1990.1 L840.0 1989.3 L846.0 1988.5 L852.0 1987.9 L858.0 1987.3 L864.0 1986.8 L870.0 1986.4 L876.0 1986.1 L882.0 1985.8 L888.0 1985.5 L894.0 1985.2 L900.0 1985.0 L906.0 1984.7 L912.0 1984.3 L918.0 1983.9 L924.0 1983.5 L930.0 1983.0 L936.0 1982.3 L942.0 1981.6 L948.0 1980.7 L954.0 1979.7 L960.0 1978.5 L966.0 1977.2 L972.0 1975.6 L978.0 1973.9 L984.0 1972.0 L990.0 1969.8 L996.0 1967.4 L1002.0 1964.7 L1008.0 1961.8 L1014.0 1958.7 L1020.0 1955.3 L1026.0 1951.7 L1032.0 1947.9 L1038.0 1943.9 L1044.0 1939.8 L1050.0 1935.5 L1056.0 1931.0 L1062.0 1926.5 L1068.0 1921.8 L1074.0 1917.1 L1080.0 1912.3 L1086.0 1907.4 L1092.0 1902.5 L1098.0 1897.6 L1104.0 1892.7 L1110.0 1887.8 L1116.0 1883.0 L1122.0 1878.2 L1128.0 1873.7 L1134.0 1869.5 L1140.0 1865.5 L1146.0 1861.6 L1152.0 1857.8 L1158.0 1854.2 L1164.0 1850.5 L1170.0 1846.8 L1176.0 1843.2 L1182.0 1839.8 L1188.0 1836.5 L1194.0 1833.4 L1200.0 1830.4 L1206.0 1827.6 L1212.0 1825.0 L1218.0 1822.5 L1224.0 1820.2 L1230.0 1818.0 L1236.0 1816.0 L1242.0 1814.0 L1248.0 1812.1 L1254.0 1810.3 L1260.0 1808.5 L1266.0 1806.7 L1272.0 1804.9 L1278.0 1803.2 L1284.0 1801.4 L1290.0 1799.5 L1296.0 1797.7 L1302.0 1795.7 L1308.0 1793.8 L1314.0 1791.8 L1320.0 1789.8 L1326.0 1787.7 L1332.0 1785.6 L1338.0 1783.5 L1344.0 1781.4 L1350.0 1779.3 L1356.0 1777.1 L1362.0 1774.9 L1368.0 1772.7 L1374.0 1770.5 L1380.0 1768.3 L1386.0 1766.2 L1392.0 1764.1 L1398.0 1762.0 L1404.0 1760.0 L1410.0 1758.0 L1416.0 1756.1 L1422.0 1754.3 L1428.0 1752.5 L1434.0 1750.9 L1440.0 1749.4 L1446.0 1748.0 L1452.0 1746.8 L1458.0 1745.7 L1464.0 1744.8 L1470.0 1744.1 L1476.0 1743.5 L1482.0 1743.2 L1488.0 1743.1 L1494.0 1743.2 L1500.0 1743.6 L1506.0 1744.2 L1512.0 1745.0 L1518.0 1746.0 L1524.0 1747.2 L1530.0 1748.5 L1536.0 1749.9 L1542.0 1751.5 L1548.0 1753.1 L1554.0 1754.8 L1560.0 1756.5 L1566.0 1758.3 L1572.0 1760.1 L1578.0 1761.9 L1584.0 1763.7 L1590.0 1765.6 L1596.0 1767.4 L1602.0 1769.1 L1608.0 1770.9 L1614.0 1772.6 L1620.0 1774.3 L1626.0 1775.9 L1632.0 1777.5 L1638.0 1779.0 L1644.0 1780.4 L1650.0 1781.6 L1656.0 1782.8 L1662.0 1783.7 L1668.0 1784.5 L1674.0 1785.0 L1680.0 1785.3 L1686.0 1785.4 L1692.0 1785.1 L1698.0 1784.5 L1704.0 1783.6 L1710.0 1782.3 L1716.0 1780.6 L1722.0 1778.6 L1728.0 1776.2 L1734.0 1773.6 L1740.0 1770.6 L1746.0 1767.3 L1752.0 1763.7 L1758.0 1759.8 L1764.0 1755.7 L1770.0 1751.2 L1776.0 1746.5 L1782.0 1741.6 L1788.0 1736.4 L1794.0 1731.1 L1800.0 1725.6 L1806.0 1720.0 L1812.0 1714.4 L1818.0 1708.7 L1824.0 1702.9 L1830.0 1697.2 L1836.0 1691.5 L1842.0 1685.8 L1848.0 1680.3 L1854.0 1674.9 L1860.0 1669.6 L1866.0 1664.5 L1872.0 1659.4 L1878.0 1654.6 L1884.0 1649.8 L1890.0 1645.3 L1896.0 1640.9 L1902.0 1636.8 L1908.0 1632.8 L1914.0 1629.0 L1920.0 1625.4 L1926.0 1622.0 L1932.0 1618.9 L1938.0 1615.9 L1944.0 1613.0 L1950.0 1610.4 L1956.0 1607.9 L1962.0 1605.5 L1968.0 1603.3 L1974.0 1601.2 L1980.0 1599.2 L1986.0 1597.4 L1992.0 1595.6 L1998.0 1594.0 L2004.0 1592.5 L2010.0 1591.1 L2016.0 1589.8 L2022.0 1588.6 L2028.0 1587.6 L2034.0 1586.7 L2040.0 1585.9 L2046.0 1585.2 L2052.0 1584.6 L2058.0 1584.2 L2064.0 1583.9 L2070.0 1583.6 L2076.0 1583.5 L2082.0 1583.5 L2088.0 1583.5 L2094.0 1583.6 L2100.0 1583.7 L2106.0 1583.9 L2112.0 1584.1 L2118.0 1584.3 L2124.0 1584.5 L2130.0 1584.7 L2136.0 1585.0 L2142.0 1585.1 L2148.0 1585.3 L2154.0 1585.5 L2160.0 1585.6 L2166.0 1585.6 L2172.0 1585.7 L2178.0 1585.6 L2184.0 1585.6 L2190.0 1585.4 L2196.0 1585.2 L2202.0 1584.9 L2208.0 1584.6 L2214.0 1584.2 L2220.0 1583.7 L2226.0 1583.2 L2232.0 1582.7 L2238.0 1582.1 L2244.0 1581.5 L2250.0 1580.8 L2256.0 1580.1 L2262.0 1579.4 L2268.0 1578.7 L2274.0 1578.0 L2280.0 1577.2 L2286.0 1576.5 L2292.0 1575.7 L2298.0 1574.9 L2304.0 1574.1 L2310.0 1573.3 L2316.0 1572.5 L2322.0 1571.7 L2328.0 1570.9 L2334.0 1570.1 L2340.0 1569.3 L2346.0 1568.4 L2352.0 1567.5 L2358.0 1566.5 L2364.0 1565.4 L2370.0 1564.2 L2376.0 1562.9 L2382.0 1561.4 L2388.0 1559.7 L2394.0 1557.8 L2400.0 1555.8 L2406.0 1553.4 L2412.0 1550.9 L2418.0 1548.1 L2424.0 1545.1 L2430.0 1541.9 L2436.0 1538.5 L2442.0 1534.9 L2448.0 1531.1 L2454.0 1527.1 L2460.0 1523.1 L2466.0 1518.8 L2472.0 1514.5 L2478.0 1510.0 L2484.0 1505.4 L2490.0 1500.8 L2496.0 1496.1 L2502.0 1491.5 L2508.0 1486.8 L2514.0 1482.3 L2520.0 1477.8 L2526.0 1473.5 L2532.0 1469.3 L2538.0 1465.3 L2544.0 1461.6 L2550.0 1458.0 L2556.0 1454.8 L2562.0 1451.8 L2568.0 1449.1 L2574.0 1446.8 L2580.0 1444.8 L2586.0 1443.1 L2592.0 1441.8 L2598.0 1441.0 L2604.0 1440.5 L2610.0 1440.4 L2616.0 1440.8 L2622.0 1441.7 L2628.0 1442.9 L2634.0 1444.5 L2640.0 1446.5 L2646.0 1448.8 L2652.0 1451.4 L2658.0 1454.3 L2664.0 1457.4 L2670.0 1460.7 L2676.0 1464.2 L2682.0 1467.8 L2688.0 1471.6 L2694.0 1475.5 L2700.0 1479.5 L2706.0 1483.6 L2712.0 1487.7 L2718.0 1491.9 L2724.0 1496.1 L2730.0 1500.3 L2736.0 1504.6 L2742.0 1508.7 L2748.0 1512.9 L2754.0 1517.0 L2760.0 1521.0 L2766.0 1525.0 L2772.0 1528.9 L2778.0 1532.7 L2784.0 1536.4 L2790.0 1540.1 L2796.0 1543.7 L2802.0 1547.2 L2808.0 1550.6 L2814.0 1553.9 L2820.0 1557.1 L2826.0 1560.2 L2832.0 1563.2 L2838.0 1566.2 L2844.0 1569.0 L2850.0 1571.7 L2856.0 1574.4 L2862.0 1577.0 L2868.0 1579.5 L2874.0 1581.9 L2880.0 1584.3 L2886.0 1586.6 L2892.0 1588.8 L2898.0 1591.0 L2904.0 1593.1 L2910.0 1595.1 L2916.0 1597.1 L2922.0 1599.0 L2928.0 1600.9 L2934.0 1602.7 L2940.0 1604.5 L2946.0 1606.2 L2952.0 1607.9 L2958.0 1609.5 L2964.0 1611.1 L2970.0 1612.6 L2976.0 1614.2 L2982.0 1615.6 L2988.0 1617.0 L2994.0 1618.4 L3000.0 1619.6 L3006.0 1620.8 L3012.0 1622.0 L3018.0 1623.0 L3024.0 1623.9 L3030.0 1624.8 L3036.0 1625.5 L3042.0 1626.2 L3048.0 1626.7 L3054.0 1627.2 L3060.0 1627.5 L3066.0 1627.8 L3072.0 1628.0 L3078.0 1628.1 L3084.0 1628.1 L3090.0 1628.0 L3096.0 1627.8 L3102.0 1627.6 L3108.0 1627.3 L3114.0 1627.0 L3120.0 1626.6 L3126.0 1626.1 L3132.0 1625.7 L3138.0 1625.2 L3144.0 1624.7 L3150.0 1624.2 L3156.0 1623.7 L3162.0 1623.3 L3168.0 1622.9 L3174.0 1622.5 L3180.0 1622.2 L3186.0 1622.0 L3192.0 1621.9 L3198.0 1621.9 L3204.0 1622.0 L3210.0 1622.4 L3216.0 1622.9 L3222.0 1623.7 L3228.0 1624.7 L3234.0 1626.0 L3240.0 1627.6 L3246.0 1629.5 L3252.0 1631.7 L3258.0 1634.2 L3264.0 1636.9 L3270.0 1639.9 L3276.0 1643.1 L3282.0 1646.5 L3288.0 1650.0 L3294.0 1653.8 L3300.0 1657.6 L3306.0 1661.5 L3312.0 1665.5 L3318.0 1669.6 L3324.0 1673.7 L3330.0 1677.8 L3336.0 1682.0 L3342.0 1686.1 L3348.0 1690.3 L3354.0 1694.5 L3360.0 1698.7 L3366.0 1702.9 L3372.0 1707.0 L3378.0 1711.1 L3384.0 1715.1 L3390.0 1719.1 L3396.0 1723.1 L3402.0 1727.0 L3408.0 1730.9 L3414.0 1734.8 L3420.0 1738.6 L3426.0 1742.4 L3432.0 1746.3 L3438.0 1750.1 L3444.0 1753.9 L3450.0 1757.7 L3456.0 1761.5 L3462.0 1765.4 L3468.0 1769.2 L3474.0 1773.1 L3480.0 1777.0 L3486.0 1781.0 L3492.0 1785.0 L3498.0 1789.0 L3504.0 1793.1 L3510.0 1797.3 L3516.0 1801.5 L3522.0 1805.8 L3528.0 1810.2 L3534.0 1814.6 L3540.0 1819.2 L3546.0 1823.8 L3552.0 1828.6 L3558.0 1833.4 L3564.0 1838.4 L3570.0 1843.4 L3576.0 1848.3 L3582.0 1853.3 L3588.0 1858.3 L3594.0 1863.5 L3600.0 1869.0 L3606.0 1874.6 L3612.0 1880.6 L3618.0 1886.8 L3624.0 1893.1 L3630.0 1899.5 L3636.0 1905.9 L3642.0 1912.2 L3648.0 1918.6 L3654.0 1924.9 L3660.0 1931.2 L3666.0 1937.4 L3672.0 1943.4 L3678.0 1949.4 L3684.0 1955.2 L3690.0 1960.9 L3696.0 1966.5 L3702.0 1972.0 L3708.0 1977.4 L3714.0 1982.7 L3720.0 1987.8 L3726.0 1992.8 L3732.0 1997.6 L3738.0 2002.4 L3744.0 2007.0 L3750.0 2011.4 L3756.0 2015.8 L3762.0 2019.9 L3768.0 2023.9 L3774.0 2027.8 L3780.0 2031.5 L3786.0 2035.1 L3792.0 2038.4 L3798.0 2041.6 L3804.0 2044.7 L3810.0 2047.5 L3816.0 2050.2 L3822.0 2052.8 L3828.0 2055.1 L3834.0 2057.3 L3840.0 2059.4 L3846.0 2061.3 L3852.0 2063.0 L3858.0 2064.6 L3864.0 2066.1 L3870.0 2067.4 L3876.0 2068.6 L3882.0 2069.7 L3888.0 2070.7 L3894.0 2071.6 L3900.0 2072.3 L3906.0 2073.0 L3912.0 2073.7 L3918.0 2074.2 L3924.0 2074.7 L3930.0 2075.2 L3936.0 2075.6 L3942.0 2076.0 L3948.0 2076.4 L3954.0 2076.8 L3960.0 2077.1 L3966.0 2077.5 L3972.0 2077.8 L3978.0 2078.2 L3984.0 2078.5 L3990.0 2078.9 L3996.0 2079.3 L4002.0 2079.7 L4008.0 2080.1 L4014.0 2080.6 L4020.0 2081.1 L4026.0 2081.6 L4032.0 2082.1 L4038.0 2082.7 L4044.0 2083.3 L4050.0 2084.0 L4056.0 2084.7 L4062.0 2085.5 L4068.0 2086.4 L4074.0 2087.3 L4080.0 2088.2 L4086.0 2089.3 L4092.0 2090.4 L4092.5 2090.5 L4092.5 2112.2 L372.0 2112.2 Z" fill="#ff0000"/>
<path d="M372.0 2112.1 L378.0 2111.9 L384.0 2111.8 L390.0 2111.6 L396.0 2111.4 L402.0 2111.3 L408.0 2111.1 L414.0 2110.9 L420.0 2110.7 L426.0 2110.5 L432.0 2110.3 L438.0 2110.1 L444.0 2110.0 L450.0 2109.8 L456.0 2109.7 L462.0 2109.6 L468.0 2109.5 L474.0 2109.3 L480.0 2109.1 L486.0 2108.8 L492.0 2108.5 L498.0 2108.2 L504.0 2107.8 L510.0 2107.3 L516.0 2106.7 L522.0 2106.1 L528.0 2105.4 L534.0 2104.7 L540.0 2103.8 L546.0 2102.9 L552.0 2101.8 L558.0 2100.7 L564.0 2099.4 L570.0 2098.1 L576.0 2096.6 L582.0 2095.0 L588.0 2093.3 L594.0 2091.4 L600.0 2089.4 L606.0 2087.4 L612.0 2085.1 L618.0 2082.8 L624.0 2080.4 L630.0 2077.8 L636.0 2075.1 L642.0 2072.4 L648.0 2069.5 L654.0 2066.5 L660.0 2063.4 L666.0 2060.3 L672.0 2057.1 L678.0 2053.8 L684.0 2050.5 L690.0 2047.1 L696.0 2043.8 L702.0 2040.5 L708.0 2037.2 L714.0 2033.9 L720.0 2030.7 L726.0 2027.5 L732.0 2024.5 L738.0 2021.5 L744.0 2018.6 L750.0 2015.8 L756.0 2013.1 L762.0 2010.5 L768.0 2008.0 L774.0 2005.7 L780.0 2003.5 L786.0 2001.4 L792.0 1999.5 L798.0 1997.8 L804.0 1996.2 L810.0 1994.7 L816.0 1993.4 L822.0 1992.2 L828.0 1991.1 L834.0 1990.1 L840.0 1989.3 L846.0 1988.5 L852.0 1987.9 L858.0 1987.3 L864.0 1986.8 L870.0 1986.4 L876.0 1986.1 L882.0 1985.8 L888.0 1985.5 L894.0 1985.2 L900.0 1985.0 L906.0 1984.7 L912.0 1984.3 L918.0 1983.9 L924.0 1983.5 L930.0 1983.0 L936.0 1982.3 L942.0 1981.6 L948.0 1980.7 L954.0 1979.7 L960.0 1978.5 L966.0 1977.2 L972.0 1975.6 L978.0 1973.9 L984.0 1972.0 L990.0 1969.8 L996.0 1967.4 L1002.0 1964.7 L1008.0 1961.8 L1014.0 1958.7 L1020.0 1955.3 L1026.0 1951.7 L1032.0 1947.9 L1038.0 1943.9 L1044.0 1939.8 L1050.0 1935.5 L1056.0 1931.0 L1062.0 1926.5 L1068.0 1921.8 L1074.0 1917.1 L1080.0 1912.3 L1086.0 1907.4 L1092.0 1902.5 L1098.0 1897.6 L1104.0 1892.7 L1110.0 1887.8 L1116.0 1883.0 L1122.0 1878.2 L1128.0 1873.7 L1134.0 1869.5 L1140.0 1865.5 L1146.0 1861.6 L1152.0 1857.8 L1158.0 1854.2 L1164.0 1850.5 L1170.0 1846.8 L1176.0 1843.2 L1182.0 1839.8 L1188.0 1836.5 L1194.0 1833.4 L1200.0 1830.4 L1206.0 1827.6 L1212.0 1825.0 L1218.0 1822.5 L1224.0 1820.2 L1230.0 1818.0 L1236.0 1816.0 L1242.0 1814.0 L1248.0 1812.1 L1254.0 1810.3 L1260.0 1808.5 L1266.0 1806.7 L1272.0 1804.9 L1278.0 1803.2 L1284.0 1801.4 L1290.0 1799.5 L1296.0 1797.7 L1302.0 1795.7 L1308.0 1793.8 L1314.0 1791.8 L1320.0 1789.8 L1326.0 1787.7 L1332.0 1785.6 L1338.0 1783.5 L1344.0 1781.4 L1350.0 1779.3 L1356.0 1777.1 L1362.0 1774.9 L1368.0 1772.7 L1374.0 1770.5 L1380.0 1768.3 L1386.0 1766.2 L1392.0 1764.1 L1398.0 1762.0 L1404.0 1760.0 L1410.0 1758.0 L1416.0 1756.1 L1422.0 1754.3 L1428.0 1752.5 L1434.0 1750.9 L1440.0 1749.4 L1446.0 1748.0 L1452.0 1746.8 L1458.0 1745.7 L1464.0 1744.8 L1470.0 1744.1 L1476.0 1743.5 L1482.0 1743.2 L1488.0 1743.1 L1494.0 1743.2 L1500.0 1743.6 L1506.0 1744.2 L1512.0 1745.0 L1518.0 1746.0 L1524.0 1747.2 L1530.0 1748.5 L1536.0 1749.9 L1542.0 1751.5 L1548.0 1753.1 L1554.0 1754.8 L1560.0 1756.5 L1566.0 1758.3 L1572.0 1760.1 L1578.0 1761.9 L1584.0 1763.7 L1590.0 1765.6 L1596.0 1767.4 L1602.0 1769.1 L1608.0 1770.9 L1614.0 1772.6 L1620.0 1774.3 L1626.0 1775.9 L1632.0 1777.5 L1638.0 1779.0 L1644.0 1780.4 L1650.0 1781.6 L1656.0 1782.8 L1662.0 1783.7 L1668.0 1784.5 L1674.0 1785.0 L1680.0 1785.3 L1686.0 1785.4 L1692.0 1785.1 L1698.0 1784.5 L1704.0 1783.6 L1710.0 1782.3 L1716.0 1780.6 L1722.0 1778.6 L1728.0 1776.2 L1734.0 1773.6 L1740.0 1770.6 L1746.0 1767.3 L1752.0 1763.7 L1758.0 1759.8 L1764.0 1755.7 L1770.0 1751.2 L1776.0 1746.5 L1782.0 1741.6 L1788.0 1736.4 L1794.0 1731.1 L1800.0 1725.6 L1806.0 1720.0 L1812.0 1714.4 L1818.0 1708.7 L1824.0 1702.9 L1830.0 1697.2 L1836.0 1691.5 L1842.0 1685.8 L1848.0 1680.3 L1854.0 1674.9 L1860.0 1669.6 L1866.0 1664.5 L1872.0 1659.4 L1878.0 1654.6 L1884.0 1649.8 L1890.0 1645.3 L1896.0 1640.9 L1902.0 1636.8 L1908.0 1632.8 L1914.0 1629.0 L1920.0 1625.4 L1926.0 1622.0 L1932.0 1618.9 L1938.0 1615.9 L1944.0 1613.0 L1950.0 1610.4 L1956.0 1607.9 L1962.0 1605.5 L1968.0 1603.3 L1974.0 1601.2 L1980.0 1599.2 L1986.0 1597.4 L1992.0 1595.6 L1998.0 1594.0 L2004.0 1592.5 L2010.0 1591.1 L2016.0 1589.8 L2022.0 1588.6 L2028.0 1587.6 L2034.0 1586.7 L2040.0 1585.9 L2046.0 1585.2 L2052.0 1584.6 L2058.0 1584.2 L2064.0 1583.9 L2070.0 1583.6 L2076.0 1583.5 L2082.0 1583.5 L2088.0 1583.5 L2094.0 1583.6 L2100.0 1583.7 L2106.0 1583.9 L2112.0 1584.1 L2118.0 1584.3 L2124.0 1584.5 L2130.0 1584.7 L2136.0 1585.0 L2142.0 1585.1 L2148.0 1585.3 L2154.0 1585.5 L2160.0 1585.6 L2166.0 1585.6 L2172.0 1585.7 L2178.0 1585.6 L2184.0 1585.6 L2190.0 1585.4 L2196.0 1585.2 L2202.0 1584.9 L2208.0 1584.6 L2214.0 1584.2 L2220.0 1583.7 L2226.0 1583.2 L2232.0 1582.7 L2238.0 1582.1 L2244.0 1581.5 L2250.0 1580.8 L2256.0 1580.1 L2262.0 1579.4 L2268.0 1578.7 L2274.0 1578.0 L2280.0 1577.2 L2286.0 1576.5 L2292.0 1575.7 L2298.0 1574.9 L2304.0 1574.1 L2310.0 1573.3 L2316.0 1572.5 L2322.0 1571.7 L2328.0 1570.9 L2334.0 1570.1 L2340.0 1569.3 L2346.0 1568.4 L2352.0 1567.5 L2358.0 1566.5 L2364.0 1565.4 L2370.0 1564.2 L2376.0 1562.9 L2382.0 1561.4 L2388.0 1559.7 L2394.0 1557.8 L2400.0 1555.8 L2406.0 1553.4 L2412.0 1550.9 L2418.0 1548.1 L2424.0 1545.1 L2430.0 1541.9 L2436.0 1538.5 L2442.0 1534.9 L2448.0 1531.1 L2454.0 1527.1 L2460.0 1523.1 L2466.0 1518.8 L2472.0 1514.5 L2478.0 1510.0 L2484.0 1505.4 L2490.0 1500.8 L2496.0 1496.1 L2502.0 1491.5 L2508.0 1486.8 L2514.0 1482.3 L2520.0 1477.8 L2526.0 1473.5 L2532.0 1469.3 L2538.0 1465.3 L2544.0 1461.6 L2550.0 1458.0 L2556.0 1454.8 L2562.0 1451.8 L2568.0 1449.1 L2574.0 1446.8 L2580.0 1444.8 L2586.0 1443.1 L2592.0 1441.8 L2598.0 1441.0 L2604.0 1440.5 L2610.0 1440.4 L2616.0 1440.8 L2622.0 1441.7 L2628.0 1442.9 L2634.0 1444.5 L2640.0 1446.5 L2646.0 1448.8 L2652.0 1451.4 L2658.0 1454.3 L2664.0 1457.4 L2670.0 1460.7 L2676.0 1464.2 L2682.0 1467.8 L2688.0 1471.6 L2694.0 1475.5 L2700.0 1479.5 L2706.0 1483.6 L2712.0 1487.7 L2718.0 1491.9 L2724.0 1496.1 L2730.0 1500.3 L2736.0 1504.6 L2742.0 1508.7 L2748.0 1512.9 L2754.0 1517.0 L2760.0 1521.0 L2766.0 1525.0 L2772.0 1528.9 L2778.0 1532.7 L2784.0 1536.4 L2790.0 1540.1 L2796.0 1543.7 L2802.0 1547.2 L2808.0 1550.6 L2814.0 1553.9 L2820.0 1557.1 L2826.0 1560.2 L2832.0 1563.2 L2838.0 1566.2 L2844.0 1569.0 L2850.0 1571.7 L2856.0 1574.4 L2862.0 1577.0 L2868.0 1579.5 L2874.0 1581.9 L2880.0 1584.3 L2886.0 1586.6 L2892.0 1588.8 L2898.0 1591.0 L2904.0 1593.1 L2910.0 1595.1 L2916.0 1597.1 L2922.0 1599.0 L2928.0 1600.9 L2934.0 1602.7 L2940.0 1604.5 L2946.0 1606.2 L2952.0 1607.9 L2958.0 1609.5 L2964.0 1611.1 L2970.0 1612.6 L2976.0 1614.2 L2982.0 1615.6 L2988.0 1617.0 L2994.0 1618.4 L3000.0 1619.6 L3006.0 1620.8 L3012.0 1622.0 L3018.0 1623.0 L3024.0 1623.9 L3030.0 1624.8 L3036.0 1625.5 L3042.0 1626.2 L3048.0 1626.7 L3054.0 1627.2 L3060.0 1627.5 L3066.0 1627.8 L3072.0 1628.0 L3078.0 1628.1 L3084.0 1628.1 L3090.0 1628.0 L3096.0 1627.8 L3102.0 1627.6 L3108.0 1627.3 L3114.0 1627.0 L3120.0 1626.6 L3126.0 1626.1 L3132.0 1625.7 L3138.0 1625.2 L3144.0 1624.7 L3150.0 1624.2 L3156.0 1623.7 L3162.0 1623.3 L3168.0 1622.9 L3174.0 1622.5 L3180.0 1622.2 L3186.0 1622.0 L3192.0 1621.9 L3198.0 1621.9 L3204.0 1622.0 L3210.0 1622.4 L3216.0 1622.9 L3222.0 1623.7 L3228.0 1624.7 L3234.0 1626.0 L3240.0 1627.6 L3246.0 1629.5 L3252.0 1631.7 L3258.0 1634.2 L3264.0 1636.9 L3270.0 1639.9 L3276.0 1643.1 L3282.0 1646.5 L3288.0 1650.0 L3294.0 1653.8 L3300.0 1657.6 L3306.0 1661.5 L3312.0 1665.5 L3318.0 1669.6 L3324.0 1673.7 L3330.0 1677.8 L3336.0 1682.0 L3342.0 1686.1 L3348.0 1690.3 L3354.0 1694.5 L3360.0 1698.7 L3366.0 1702.9 L3372.0 1707.0 L3378.0 1711.1 L3384.0 1715.1 L3390.0 1719.1 L3396.0 1723.1 L3402.0 1727.0 L3408.0 1730.9 L3414.0 1734.8 L3420.0 1738.6 L3426.0 1742.4 L3432.0 1746.3 L3438.0 1750.1 L3444.0 1753.9 L3450.0 1757.7 L3456.0 1761.5 L3462.0 1765.4 L3468.0 1769.2 L3474.0 1773.1 L3480.0 1777.0 L3486.0 1781.0 L3492.0 1785.0 L3498.0 1789.0 L3504.0 1793.1 L3510.0 1797.3 L3516.0 1801.5 L3522.0 1805.8 L3528.0 1810.2 L3534.0 1814.6 L3540.0 1819.2 L3546.0 1823.8 L3552.0 1828.6 L3558.0 1833.4 L3564.0 1838.4 L3570.0 1843.4 L3576.0 1848.3 L3582.0 1853.3 L3588.0 1858.3 L3594.0 1863.5 L3600.0 1869.0 L3606.0 1874.6 L3612.0 1880.6 L3618.0 1886.8 L3624.0 1893.1 L3630.0 1899.5 L3636.0 1905.9 L3642.0 1912.2 L3648.0 1918.6 L3654.0 1924.9 L3660.0 1931.2 L3666.0 1937.4 L3672.0 1943.4 L3678.0 1949.4 L3684.0 1955.2 L3690.0 1960.9 L3696.0 1966.5 L3702.0 1972.0 L3708.0 1977.4 L3714.0 1982.7 L3720.0 1987.8 L3726.0 1992.8 L3732.0 1997.6 L3738.0 2002.4 L3744.0 2007.0 L3750.0 2011.4 L3756.0 2015.8 L3762.0 2019.9 L3768.0 2023.9 L3774.0 2027.8 L3780.0 2031.5 L3786.0 2035.1 L3792.0 2038.4 L3798.0 2041.6 L3804.0 2044.7 L3810.0 2047.5 L3816.0 2050.2 L3822.0 2052.8 L3828.0 2055.1 L3834.0 2057.3 L3840.0 2059.4 L3846.0 2061.3 L3852.0 2063.0 L3858.0 2064.6 L3864.0 2066.1 L3870.0 2067.4 L3876.0 2068.6 L3882.0 2069.7 L3888.0 2070.7 L3894.0 2071.6 L3900.0 2072.3 L3906.0 2073.0 L3912.0 2073.7 L3918.0 2074.2 L3924.0 2074.7 L3930.0 2075.2 L3936.0 2075.6 L3942.0 2076.0 L3948.0 2076.4 L3954.0 2076.8 L3960.0 2077.1 L3966.0 2077.5 L3972.0 2077.8 L3978.0 2078.2 L3984.0 2078.5 L3990.0 2078.9 L3996.0 2079.3 L4002.0 2079.7 L4008.0 2080.1 L4014.0 2080.6 L4020.0 2081.1 L4026.0 2081.6 L4032.0 2082.1 L4038.0 2082.7 L4044.0 2083.3 L4050.0 2084.0 L4056.0 2084.7 L4062.0 2085.5 L4068.0 2086.4 L4074.0 2087.3 L4080.0 2088.2 L4086.0 2089.3 L4092.0 2090.4 L4092.5 2090.5" fill="none" stroke="#f0f0f0" stroke-width="4.2" stroke-linejoin="round"/>
<path d="M372.0 2111.9 H4092.5" stroke="#ff0000" stroke-width="1.1" fill="none"/>
<text x="106.19" y="116.4" font-size="88.5" textLength="2279.81" lengthAdjust="spacingAndGlyphs" stroke="#f0f0f0" stroke-width="2.4">Distribution of Aptitude Test Results from 18 – 24 year-olds</text>
<text x="102.17" y="865.5" font-size="63.5" textLength="196.23" lengthAdjust="spacingAndGlyphs" font-weight="700">France</text>
<text x="30.03" y="1115.0" font-size="63.5" textLength="266.77" lengthAdjust="spacingAndGlyphs" font-weight="700">Germany</text>
<text x="98.44" y="1364.0" font-size="63.5" textLength="201.22" lengthAdjust="spacingAndGlyphs" font-weight="700">Ireland</text>
<text x="175.44" y="1613.9" font-size="63.5" textLength="120.96" lengthAdjust="spacingAndGlyphs" font-weight="700">Italy</text>
<text x="140.50" y="1863.0" font-size="63.5" textLength="158.10" lengthAdjust="spacingAndGlyphs" font-weight="700">Spain</text>
<text x="117.97" y="2048.0" font-size="63.5" textLength="181.06" lengthAdjust="spacingAndGlyphs" font-weight="700">United</text>
<text x="43.36" y="2112.4" font-size="63.5" textLength="256.07" lengthAdjust="spacingAndGlyphs" font-weight="700">Kingdom</text>
<text x="329.42" y="2186.8" font-size="64" textLength="85.15" lengthAdjust="spacingAndGlyphs" stroke="#f0f0f0" stroke-width="1.4">0.0</text>
<text x="1073.41" y="2186.8" font-size="64" textLength="86.20" lengthAdjust="spacingAndGlyphs" stroke="#f0f0f0" stroke-width="1.4">0.2</text>
<text x="1817.47" y="2186.8" font-size="64" textLength="84.05" lengthAdjust="spacingAndGlyphs" stroke="#f0f0f0" stroke-width="1.4">0.4</text>
<text x="2561.43" y="2186.8" font-size="64" textLength="85.11" lengthAdjust="spacingAndGlyphs" stroke="#f0f0f0" stroke-width="1.4">0.6</text>
<text x="3305.44" y="2186.8" font-size="64" textLength="85.11" lengthAdjust="spacingAndGlyphs" stroke="#f0f0f0" stroke-width="1.4">0.8</text>
<text x="4055.33" y="2186.8" font-size="64" textLength="78.52" lengthAdjust="spacingAndGlyphs" stroke="#f0f0f0" stroke-width="1.4">1.0</text>
<text x="2070.80" y="2263.3" font-size="70" textLength="323.20" lengthAdjust="spacingAndGlyphs" font-weight="700">Test Score</text>
</svg>
</body></html>
